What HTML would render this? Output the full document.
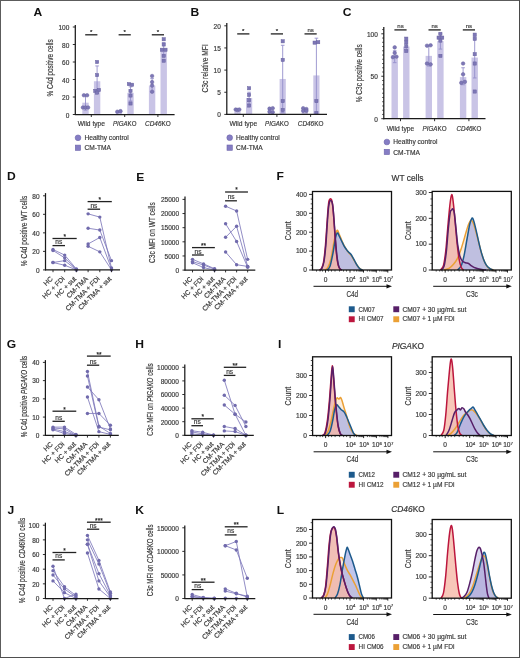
<!DOCTYPE html>
<html><head><meta charset="utf-8"><title>Figure</title>
<style>
html,body{margin:0;padding:0;background:#fff;}
body{width:520px;height:658px;overflow:hidden;}
svg{display:block;font-family:"Liberation Sans", sans-serif;will-change:transform;}
</style></head><body>
<svg width="520" height="658" viewBox="0 0 520 658">
<rect x="0" y="0" width="520" height="658" fill="#fff"/>
<text x="0" y="0" font-size="10.6" font-weight="bold" fill="#111" transform="translate(33.6 16.3) scale(1.14 1)">A</text>
<rect x="82.3" y="102.69" width="6.4" height="11.81" fill="#c9c4e6"/>
<rect x="93.9" y="81.25" width="6.4" height="33.25" fill="#c9c4e6"/>
<rect x="115.7" y="111.7" width="6.4" height="2.8" fill="#c9c4e6"/>
<rect x="127.3" y="92.8" width="6.4" height="21.7" fill="#c9c4e6"/>
<rect x="148.9" y="85.62" width="6.4" height="28.88" fill="#c9c4e6"/>
<rect x="160.5" y="49.75" width="6.4" height="64.75" fill="#c9c4e6"/>
<line x1="85.5" y1="95.25" x2="85.5" y2="110.12" stroke="#9590cc" stroke-width="0.9"/>
<line x1="83.7" y1="95.25" x2="87.3" y2="95.25" stroke="#9590cc" stroke-width="0.9"/>
<line x1="83.7" y1="110.12" x2="87.3" y2="110.12" stroke="#9590cc" stroke-width="0.9"/>
<circle cx="83.9" cy="95.25" r="1.8" fill="#7d77b6" stroke="#68629f" stroke-width="0.5"/>
<circle cx="87.1" cy="95.25" r="1.8" fill="#7d77b6" stroke="#68629f" stroke-width="0.5"/>
<circle cx="82.9" cy="107.5" r="1.8" fill="#7d77b6" stroke="#68629f" stroke-width="0.5"/>
<circle cx="85.5" cy="107.5" r="1.8" fill="#7d77b6" stroke="#68629f" stroke-width="0.5"/>
<circle cx="88.1" cy="107.5" r="1.8" fill="#7d77b6" stroke="#68629f" stroke-width="0.5"/>
<line x1="97.1" y1="65.94" x2="97.1" y2="93.5" stroke="#9590cc" stroke-width="0.9"/>
<line x1="95.3" y1="65.94" x2="98.9" y2="65.94" stroke="#9590cc" stroke-width="0.9"/>
<line x1="95.3" y1="93.5" x2="98.9" y2="93.5" stroke="#9590cc" stroke-width="0.9"/>
<rect x="95.5" y="60.4" width="3.2" height="3.2" fill="#7d77b6" stroke="#68629f" stroke-width="0.5"/>
<rect x="95.5" y="73.53" width="3.2" height="3.2" fill="#7d77b6" stroke="#68629f" stroke-width="0.5"/>
<rect x="93.7" y="89.28" width="3.2" height="3.2" fill="#7d77b6" stroke="#68629f" stroke-width="0.5"/>
<rect x="97.3" y="88.4" width="3.2" height="3.2" fill="#7d77b6" stroke="#68629f" stroke-width="0.5"/>
<rect x="95.5" y="91.03" width="3.2" height="3.2" fill="#7d77b6" stroke="#68629f" stroke-width="0.5"/>
<line x1="118.9" y1="111" x2="118.9" y2="112.31" stroke="#9590cc" stroke-width="0.9"/>
<line x1="117.1" y1="111" x2="120.7" y2="111" stroke="#9590cc" stroke-width="0.9"/>
<line x1="117.1" y1="112.31" x2="120.7" y2="112.31" stroke="#9590cc" stroke-width="0.9"/>
<circle cx="117.3" cy="111.7" r="1.8" fill="#7d77b6" stroke="#68629f" stroke-width="0.5"/>
<circle cx="120.5" cy="111.17" r="1.8" fill="#7d77b6" stroke="#68629f" stroke-width="0.5"/>
<line x1="130.5" y1="86.85" x2="130.5" y2="100.94" stroke="#9590cc" stroke-width="0.9"/>
<line x1="128.7" y1="86.85" x2="132.3" y2="86.85" stroke="#9590cc" stroke-width="0.9"/>
<line x1="128.7" y1="100.94" x2="132.3" y2="100.94" stroke="#9590cc" stroke-width="0.9"/>
<rect x="127.3" y="82.54" width="3.2" height="3.2" fill="#7d77b6" stroke="#68629f" stroke-width="0.5"/>
<rect x="130.5" y="83.15" width="3.2" height="3.2" fill="#7d77b6" stroke="#68629f" stroke-width="0.5"/>
<rect x="128.9" y="89.28" width="3.2" height="3.2" fill="#7d77b6" stroke="#68629f" stroke-width="0.5"/>
<rect x="128.9" y="93.91" width="3.2" height="3.2" fill="#7d77b6" stroke="#68629f" stroke-width="0.5"/>
<rect x="128.9" y="101.88" width="3.2" height="3.2" fill="#7d77b6" stroke="#68629f" stroke-width="0.5"/>
<line x1="152.1" y1="78.62" x2="152.1" y2="91.75" stroke="#9590cc" stroke-width="0.9"/>
<line x1="150.3" y1="78.62" x2="153.9" y2="78.62" stroke="#9590cc" stroke-width="0.9"/>
<line x1="150.3" y1="91.75" x2="153.9" y2="91.75" stroke="#9590cc" stroke-width="0.9"/>
<circle cx="152.1" cy="76" r="1.8" fill="#7d77b6" stroke="#68629f" stroke-width="0.5"/>
<circle cx="152.1" cy="82.12" r="1.8" fill="#7d77b6" stroke="#68629f" stroke-width="0.5"/>
<circle cx="152.1" cy="85.62" r="1.8" fill="#7d77b6" stroke="#68629f" stroke-width="0.5"/>
<circle cx="152.1" cy="91.75" r="1.8" fill="#7d77b6" stroke="#68629f" stroke-width="0.5"/>
<line x1="163.7" y1="42.75" x2="163.7" y2="55.88" stroke="#9590cc" stroke-width="0.9"/>
<line x1="161.9" y1="42.75" x2="165.5" y2="42.75" stroke="#9590cc" stroke-width="0.9"/>
<line x1="161.9" y1="55.88" x2="165.5" y2="55.88" stroke="#9590cc" stroke-width="0.9"/>
<rect x="162.1" y="37.65" width="3.2" height="3.2" fill="#7d77b6" stroke="#68629f" stroke-width="0.5"/>
<rect x="162.1" y="42.9" width="3.2" height="3.2" fill="#7d77b6" stroke="#68629f" stroke-width="0.5"/>
<rect x="160.3" y="48.15" width="3.2" height="3.2" fill="#7d77b6" stroke="#68629f" stroke-width="0.5"/>
<rect x="163.9" y="48.15" width="3.2" height="3.2" fill="#7d77b6" stroke="#68629f" stroke-width="0.5"/>
<rect x="162.1" y="54.27" width="3.2" height="3.2" fill="#7d77b6" stroke="#68629f" stroke-width="0.5"/>
<rect x="162.1" y="59.09" width="3.2" height="3.2" fill="#7d77b6" stroke="#68629f" stroke-width="0.5"/>
<line x1="75.3" y1="25" x2="75.3" y2="115" stroke="#1a1a1a" stroke-width="1.25"/>
<line x1="74.8" y1="114.5" x2="174.6" y2="114.5" stroke="#1a1a1a" stroke-width="1.25"/>
<line x1="72.8" y1="114.5" x2="75.3" y2="114.5" stroke="#1a1a1a" stroke-width="0.9"/>
<text x="69.3" y="117.5" font-size="6.5" text-anchor="end" fill="#3a3a3a" stroke="#3a3a3a" stroke-width="0.18">0</text>
<line x1="72.8" y1="97" x2="75.3" y2="97" stroke="#1a1a1a" stroke-width="0.9"/>
<text x="69.3" y="100" font-size="6.5" text-anchor="end" fill="#3a3a3a" stroke="#3a3a3a" stroke-width="0.18">20</text>
<line x1="72.8" y1="79.5" x2="75.3" y2="79.5" stroke="#1a1a1a" stroke-width="0.9"/>
<text x="69.3" y="82.5" font-size="6.5" text-anchor="end" fill="#3a3a3a" stroke="#3a3a3a" stroke-width="0.18">40</text>
<line x1="72.8" y1="62" x2="75.3" y2="62" stroke="#1a1a1a" stroke-width="0.9"/>
<text x="69.3" y="65" font-size="6.5" text-anchor="end" fill="#3a3a3a" stroke="#3a3a3a" stroke-width="0.18">60</text>
<line x1="72.8" y1="44.5" x2="75.3" y2="44.5" stroke="#1a1a1a" stroke-width="0.9"/>
<text x="69.3" y="47.5" font-size="6.5" text-anchor="end" fill="#3a3a3a" stroke="#3a3a3a" stroke-width="0.18">80</text>
<line x1="72.8" y1="27" x2="75.3" y2="27" stroke="#1a1a1a" stroke-width="0.9"/>
<text x="69.3" y="30" font-size="6.5" text-anchor="end" fill="#3a3a3a" stroke="#3a3a3a" stroke-width="0.18">100</text>
<line x1="91.3" y1="114.5" x2="91.3" y2="117" stroke="#1a1a1a" stroke-width="0.9"/>
<line x1="124.7" y1="114.5" x2="124.7" y2="117" stroke="#1a1a1a" stroke-width="0.9"/>
<line x1="157.9" y1="114.5" x2="157.9" y2="117" stroke="#1a1a1a" stroke-width="0.9"/>
<text x="91.3" y="126.2" font-size="6.7" text-anchor="middle" fill="#3a3a3a" textLength="27.3" lengthAdjust="spacingAndGlyphs" stroke="#3a3a3a" stroke-width="0.18">Wild type</text>
<text x="124.7" y="126.2" font-size="6.7" text-anchor="middle" fill="#3a3a3a" textLength="23.5" lengthAdjust="spacingAndGlyphs" stroke="#3a3a3a" stroke-width="0.18"><tspan font-style="italic">PIGA</tspan>KO</text>
<text x="157.9" y="126.2" font-size="6.7" text-anchor="middle" fill="#3a3a3a" textLength="25.7" lengthAdjust="spacingAndGlyphs" stroke="#3a3a3a" stroke-width="0.18"><tspan font-style="italic">CD46</tspan>KO</text>
<line x1="85.2" y1="34.8" x2="97.4" y2="34.8" stroke="#222" stroke-width="1.3"/>
<text x="91.3" y="34.2" font-size="6.2" text-anchor="middle" fill="#222" stroke="#222" stroke-width="0.18">*</text>
<line x1="118.6" y1="34.8" x2="130.8" y2="34.8" stroke="#222" stroke-width="1.3"/>
<text x="124.7" y="34.2" font-size="6.2" text-anchor="middle" fill="#222" stroke="#222" stroke-width="0.18">*</text>
<line x1="151.8" y1="34.8" x2="164" y2="34.8" stroke="#222" stroke-width="1.3"/>
<text x="157.9" y="34.2" font-size="6.2" text-anchor="middle" fill="#222" stroke="#222" stroke-width="0.18">*</text>
<text x="52.8" y="67.9" font-size="8.6" text-anchor="middle" fill="#3a3a3a" transform="rotate(-90 52.8 67.9)" textLength="57.2" lengthAdjust="spacingAndGlyphs" stroke="#3a3a3a" stroke-width="0.18">% C4d positive cells</text>
<circle cx="78" cy="137.8" r="2.85" fill="#857dc4" stroke="#6e66ab" stroke-width="0.6"/>
<text x="84.4" y="139.6" font-size="6.9" text-anchor="start" fill="#3a3a3a" textLength="44.4" lengthAdjust="spacingAndGlyphs" stroke="#3a3a3a" stroke-width="0.18">Healthy control</text>
<rect x="75.3" y="145.1" width="5.3" height="5.3" fill="#857dc4" stroke="#6e66ab" stroke-width="0.6"/>
<text x="84.4" y="150.4" font-size="6.9" text-anchor="start" fill="#3a3a3a" textLength="26.5" lengthAdjust="spacingAndGlyphs" stroke="#3a3a3a" stroke-width="0.18">CM-TMA</text>
<text x="0" y="0" font-size="10.6" font-weight="bold" fill="#111" transform="translate(190.4 16.4) scale(1.14 1)">B</text>
<rect x="234.4" y="109.97" width="6.2" height="4.43" fill="#c9c4e6"/>
<rect x="246" y="98.01" width="6.2" height="16.39" fill="#c9c4e6"/>
<rect x="268" y="110.41" width="6.2" height="3.99" fill="#c9c4e6"/>
<rect x="279.6" y="78.96" width="6.2" height="35.44" fill="#c9c4e6"/>
<rect x="301.7" y="109.97" width="6.2" height="4.43" fill="#c9c4e6"/>
<rect x="313.3" y="75.42" width="6.2" height="38.98" fill="#c9c4e6"/>
<line x1="237.5" y1="109.31" x2="237.5" y2="110.63" stroke="#9590cc" stroke-width="0.9"/>
<line x1="235.7" y1="109.31" x2="239.3" y2="109.31" stroke="#9590cc" stroke-width="0.9"/>
<line x1="235.7" y1="110.63" x2="239.3" y2="110.63" stroke="#9590cc" stroke-width="0.9"/>
<circle cx="235.7" cy="109.53" r="1.8" fill="#7d77b6" stroke="#68629f" stroke-width="0.5"/>
<circle cx="237.5" cy="109.97" r="1.8" fill="#7d77b6" stroke="#68629f" stroke-width="0.5"/>
<circle cx="239.3" cy="109.53" r="1.8" fill="#7d77b6" stroke="#68629f" stroke-width="0.5"/>
<line x1="249.1" y1="92.25" x2="249.1" y2="104.21" stroke="#9590cc" stroke-width="0.9"/>
<line x1="247.3" y1="92.25" x2="250.9" y2="92.25" stroke="#9590cc" stroke-width="0.9"/>
<line x1="247.3" y1="104.21" x2="250.9" y2="104.21" stroke="#9590cc" stroke-width="0.9"/>
<rect x="247.5" y="86.66" width="3.2" height="3.2" fill="#7d77b6" stroke="#68629f" stroke-width="0.5"/>
<rect x="247.5" y="93.31" width="3.2" height="3.2" fill="#7d77b6" stroke="#68629f" stroke-width="0.5"/>
<rect x="247.5" y="98.62" width="3.2" height="3.2" fill="#7d77b6" stroke="#68629f" stroke-width="0.5"/>
<rect x="247.5" y="103.94" width="3.2" height="3.2" fill="#7d77b6" stroke="#68629f" stroke-width="0.5"/>
<line x1="271.1" y1="108.64" x2="271.1" y2="112.19" stroke="#9590cc" stroke-width="0.9"/>
<line x1="269.3" y1="108.64" x2="272.9" y2="108.64" stroke="#9590cc" stroke-width="0.9"/>
<line x1="269.3" y1="112.19" x2="272.9" y2="112.19" stroke="#9590cc" stroke-width="0.9"/>
<circle cx="269.5" cy="108.64" r="1.8" fill="#7d77b6" stroke="#68629f" stroke-width="0.5"/>
<circle cx="272.7" cy="108.2" r="1.8" fill="#7d77b6" stroke="#68629f" stroke-width="0.5"/>
<circle cx="269.5" cy="111.74" r="1.8" fill="#7d77b6" stroke="#68629f" stroke-width="0.5"/>
<circle cx="272.7" cy="112.19" r="1.8" fill="#7d77b6" stroke="#68629f" stroke-width="0.5"/>
<line x1="282.7" y1="45.29" x2="282.7" y2="112.63" stroke="#9590cc" stroke-width="0.9"/>
<line x1="280.9" y1="45.29" x2="284.5" y2="45.29" stroke="#9590cc" stroke-width="0.9"/>
<line x1="280.9" y1="112.63" x2="284.5" y2="112.63" stroke="#9590cc" stroke-width="0.9"/>
<rect x="281.1" y="39.7" width="3.2" height="3.2" fill="#7d77b6" stroke="#68629f" stroke-width="0.5"/>
<rect x="281.1" y="58.31" width="3.2" height="3.2" fill="#7d77b6" stroke="#68629f" stroke-width="0.5"/>
<rect x="281.1" y="99.51" width="3.2" height="3.2" fill="#7d77b6" stroke="#68629f" stroke-width="0.5"/>
<rect x="281.1" y="108.37" width="3.2" height="3.2" fill="#7d77b6" stroke="#68629f" stroke-width="0.5"/>
<line x1="304.8" y1="108.64" x2="304.8" y2="111.3" stroke="#9590cc" stroke-width="0.9"/>
<line x1="303" y1="108.64" x2="306.6" y2="108.64" stroke="#9590cc" stroke-width="0.9"/>
<line x1="303" y1="111.3" x2="306.6" y2="111.3" stroke="#9590cc" stroke-width="0.9"/>
<circle cx="303.2" cy="108.2" r="1.8" fill="#7d77b6" stroke="#68629f" stroke-width="0.5"/>
<circle cx="306.4" cy="109.08" r="1.8" fill="#7d77b6" stroke="#68629f" stroke-width="0.5"/>
<circle cx="303.2" cy="110.86" r="1.8" fill="#7d77b6" stroke="#68629f" stroke-width="0.5"/>
<circle cx="306.4" cy="110.86" r="1.8" fill="#7d77b6" stroke="#68629f" stroke-width="0.5"/>
<line x1="316.4" y1="38.2" x2="316.4" y2="113.07" stroke="#9590cc" stroke-width="0.9"/>
<line x1="314.6" y1="38.2" x2="318.2" y2="38.2" stroke="#9590cc" stroke-width="0.9"/>
<line x1="314.6" y1="113.07" x2="318.2" y2="113.07" stroke="#9590cc" stroke-width="0.9"/>
<rect x="313" y="41.03" width="3.2" height="3.2" fill="#7d77b6" stroke="#68629f" stroke-width="0.5"/>
<rect x="316.6" y="40.59" width="3.2" height="3.2" fill="#7d77b6" stroke="#68629f" stroke-width="0.5"/>
<rect x="314.8" y="99.51" width="3.2" height="3.2" fill="#7d77b6" stroke="#68629f" stroke-width="0.5"/>
<rect x="314.8" y="111.47" width="3.2" height="3.2" fill="#7d77b6" stroke="#68629f" stroke-width="0.5"/>
<line x1="226.8" y1="23.1" x2="226.8" y2="114.9" stroke="#1a1a1a" stroke-width="1.25"/>
<line x1="226.3" y1="114.4" x2="327" y2="114.4" stroke="#1a1a1a" stroke-width="1.25"/>
<line x1="224.3" y1="114.4" x2="226.8" y2="114.4" stroke="#1a1a1a" stroke-width="0.9"/>
<text x="220.8" y="117.4" font-size="6.5" text-anchor="end" fill="#3a3a3a" stroke="#3a3a3a" stroke-width="0.18">0</text>
<line x1="224.3" y1="92.25" x2="226.8" y2="92.25" stroke="#1a1a1a" stroke-width="0.9"/>
<text x="220.8" y="95.25" font-size="6.5" text-anchor="end" fill="#3a3a3a" stroke="#3a3a3a" stroke-width="0.18">5</text>
<line x1="224.3" y1="70.1" x2="226.8" y2="70.1" stroke="#1a1a1a" stroke-width="0.9"/>
<text x="220.8" y="73.1" font-size="6.5" text-anchor="end" fill="#3a3a3a" stroke="#3a3a3a" stroke-width="0.18">10</text>
<line x1="224.3" y1="47.95" x2="226.8" y2="47.95" stroke="#1a1a1a" stroke-width="0.9"/>
<text x="220.8" y="50.95" font-size="6.5" text-anchor="end" fill="#3a3a3a" stroke="#3a3a3a" stroke-width="0.18">15</text>
<line x1="224.3" y1="25.8" x2="226.8" y2="25.8" stroke="#1a1a1a" stroke-width="0.9"/>
<text x="220.8" y="28.8" font-size="6.5" text-anchor="end" fill="#3a3a3a" stroke="#3a3a3a" stroke-width="0.18">20</text>
<line x1="243.3" y1="114.4" x2="243.3" y2="116.9" stroke="#1a1a1a" stroke-width="0.9"/>
<line x1="276.9" y1="114.4" x2="276.9" y2="116.9" stroke="#1a1a1a" stroke-width="0.9"/>
<line x1="310.6" y1="114.4" x2="310.6" y2="116.9" stroke="#1a1a1a" stroke-width="0.9"/>
<text x="243.3" y="126.2" font-size="6.7" text-anchor="middle" fill="#3a3a3a" textLength="27.7" lengthAdjust="spacingAndGlyphs" stroke="#3a3a3a" stroke-width="0.18">Wild type</text>
<text x="276.9" y="126.2" font-size="6.7" text-anchor="middle" fill="#3a3a3a" textLength="23.7" lengthAdjust="spacingAndGlyphs" stroke="#3a3a3a" stroke-width="0.18"><tspan font-style="italic">PIGA</tspan>KO</text>
<text x="310.6" y="126.2" font-size="6.7" text-anchor="middle" fill="#3a3a3a" textLength="25.6" lengthAdjust="spacingAndGlyphs" stroke="#3a3a3a" stroke-width="0.18"><tspan font-style="italic">CD46</tspan>KO</text>
<line x1="237.2" y1="33.9" x2="249.4" y2="33.9" stroke="#222" stroke-width="1.3"/>
<text x="243.3" y="33.3" font-size="6.2" text-anchor="middle" fill="#222" stroke="#222" stroke-width="0.18">*</text>
<line x1="270.8" y1="33.9" x2="283" y2="33.9" stroke="#222" stroke-width="1.3"/>
<text x="276.9" y="33.3" font-size="6.2" text-anchor="middle" fill="#222" stroke="#222" stroke-width="0.18">*</text>
<line x1="304.5" y1="33.9" x2="316.7" y2="33.9" stroke="#222" stroke-width="1.3"/>
<text x="310.6" y="31.9" font-size="6" text-anchor="middle" fill="#3a3a3a" stroke="#3a3a3a" stroke-width="0.18">ns</text>
<text x="208.3" y="68.4" font-size="8.6" text-anchor="middle" fill="#3a3a3a" transform="rotate(-90 208.3 68.4)" textLength="48.3" lengthAdjust="spacingAndGlyphs" stroke="#3a3a3a" stroke-width="0.18">C3c relative MFI</text>
<circle cx="229.7" cy="137.7" r="2.85" fill="#857dc4" stroke="#6e66ab" stroke-width="0.6"/>
<text x="236.1" y="139.5" font-size="6.9" text-anchor="start" fill="#3a3a3a" textLength="43.7" lengthAdjust="spacingAndGlyphs" stroke="#3a3a3a" stroke-width="0.18">Healthy control</text>
<rect x="227" y="145" width="5.3" height="5.3" fill="#857dc4" stroke="#6e66ab" stroke-width="0.6"/>
<text x="236.1" y="150.3" font-size="6.9" text-anchor="start" fill="#3a3a3a" textLength="26.6" lengthAdjust="spacingAndGlyphs" stroke="#3a3a3a" stroke-width="0.18">CM-TMA</text>
<text x="0" y="0" font-size="10.6" font-weight="bold" fill="#111" transform="translate(342.8 16.3) scale(1.14 1)">C</text>
<rect x="391.5" y="58.42" width="6.4" height="60.28" fill="#c9c4e6"/>
<rect x="403.1" y="46.53" width="6.4" height="72.17" fill="#c9c4e6"/>
<rect x="425.6" y="55.87" width="6.4" height="62.83" fill="#c9c4e6"/>
<rect x="437.2" y="41.1" width="6.4" height="77.6" fill="#c9c4e6"/>
<rect x="459.9" y="77.1" width="6.4" height="41.6" fill="#c9c4e6"/>
<rect x="471.5" y="57.57" width="6.4" height="61.13" fill="#c9c4e6"/>
<line x1="394.7" y1="50.78" x2="394.7" y2="62.67" stroke="#9590cc" stroke-width="0.9"/>
<line x1="392.9" y1="50.78" x2="396.5" y2="50.78" stroke="#9590cc" stroke-width="0.9"/>
<line x1="392.9" y1="62.67" x2="396.5" y2="62.67" stroke="#9590cc" stroke-width="0.9"/>
<circle cx="394.7" cy="47.38" r="1.8" fill="#7d77b6" stroke="#68629f" stroke-width="0.5"/>
<circle cx="394.7" cy="52.9" r="1.8" fill="#7d77b6" stroke="#68629f" stroke-width="0.5"/>
<circle cx="392.9" cy="57.15" r="1.8" fill="#7d77b6" stroke="#68629f" stroke-width="0.5"/>
<circle cx="396.5" cy="56.72" r="1.8" fill="#7d77b6" stroke="#68629f" stroke-width="0.5"/>
<line x1="406.3" y1="40.59" x2="406.3" y2="50.78" stroke="#9590cc" stroke-width="0.9"/>
<line x1="404.5" y1="40.59" x2="408.1" y2="40.59" stroke="#9590cc" stroke-width="0.9"/>
<line x1="404.5" y1="50.78" x2="408.1" y2="50.78" stroke="#9590cc" stroke-width="0.9"/>
<rect x="404.7" y="37.04" width="3.2" height="3.2" fill="#7d77b6" stroke="#68629f" stroke-width="0.5"/>
<rect x="404.7" y="40.86" width="3.2" height="3.2" fill="#7d77b6" stroke="#68629f" stroke-width="0.5"/>
<rect x="404.7" y="44.77" width="3.2" height="3.2" fill="#7d77b6" stroke="#68629f" stroke-width="0.5"/>
<rect x="404.7" y="49.43" width="3.2" height="3.2" fill="#7d77b6" stroke="#68629f" stroke-width="0.5"/>
<line x1="428.8" y1="45.69" x2="428.8" y2="66.06" stroke="#9590cc" stroke-width="0.9"/>
<line x1="427" y1="45.69" x2="430.6" y2="45.69" stroke="#9590cc" stroke-width="0.9"/>
<line x1="427" y1="66.06" x2="430.6" y2="66.06" stroke="#9590cc" stroke-width="0.9"/>
<circle cx="427" cy="45.69" r="1.8" fill="#7d77b6" stroke="#68629f" stroke-width="0.5"/>
<circle cx="430.6" cy="45.26" r="1.8" fill="#7d77b6" stroke="#68629f" stroke-width="0.5"/>
<circle cx="427" cy="63.52" r="1.8" fill="#7d77b6" stroke="#68629f" stroke-width="0.5"/>
<circle cx="430.6" cy="64.36" r="1.8" fill="#7d77b6" stroke="#68629f" stroke-width="0.5"/>
<line x1="440.4" y1="33.8" x2="440.4" y2="49.08" stroke="#9590cc" stroke-width="0.9"/>
<line x1="438.6" y1="33.8" x2="442.2" y2="33.8" stroke="#9590cc" stroke-width="0.9"/>
<line x1="438.6" y1="49.08" x2="442.2" y2="49.08" stroke="#9590cc" stroke-width="0.9"/>
<rect x="438.8" y="32.2" width="3.2" height="3.2" fill="#7d77b6" stroke="#68629f" stroke-width="0.5"/>
<rect x="437" y="36.02" width="3.2" height="3.2" fill="#7d77b6" stroke="#68629f" stroke-width="0.5"/>
<rect x="440.6" y="36.02" width="3.2" height="3.2" fill="#7d77b6" stroke="#68629f" stroke-width="0.5"/>
<rect x="438.8" y="38.99" width="3.2" height="3.2" fill="#7d77b6" stroke="#68629f" stroke-width="0.5"/>
<rect x="438.8" y="54.27" width="3.2" height="3.2" fill="#7d77b6" stroke="#68629f" stroke-width="0.5"/>
<line x1="463.1" y1="67.76" x2="463.1" y2="84.74" stroke="#9590cc" stroke-width="0.9"/>
<line x1="461.3" y1="67.76" x2="464.9" y2="67.76" stroke="#9590cc" stroke-width="0.9"/>
<line x1="461.3" y1="84.74" x2="464.9" y2="84.74" stroke="#9590cc" stroke-width="0.9"/>
<circle cx="463.1" cy="63.52" r="1.8" fill="#7d77b6" stroke="#68629f" stroke-width="0.5"/>
<circle cx="463.1" cy="74.3" r="1.8" fill="#7d77b6" stroke="#68629f" stroke-width="0.5"/>
<circle cx="461.3" cy="82.87" r="1.8" fill="#7d77b6" stroke="#68629f" stroke-width="0.5"/>
<circle cx="464.9" cy="81.85" r="1.8" fill="#7d77b6" stroke="#68629f" stroke-width="0.5"/>
<line x1="474.7" y1="36.35" x2="474.7" y2="77.95" stroke="#9590cc" stroke-width="0.9"/>
<line x1="472.9" y1="36.35" x2="476.5" y2="36.35" stroke="#9590cc" stroke-width="0.9"/>
<line x1="472.9" y1="77.95" x2="476.5" y2="77.95" stroke="#9590cc" stroke-width="0.9"/>
<rect x="473.1" y="33.05" width="3.2" height="3.2" fill="#7d77b6" stroke="#68629f" stroke-width="0.5"/>
<rect x="473.1" y="37.29" width="3.2" height="3.2" fill="#7d77b6" stroke="#68629f" stroke-width="0.5"/>
<rect x="473.1" y="52.58" width="3.2" height="3.2" fill="#7d77b6" stroke="#68629f" stroke-width="0.5"/>
<rect x="473.1" y="61.91" width="3.2" height="3.2" fill="#7d77b6" stroke="#68629f" stroke-width="0.5"/>
<rect x="473.1" y="89.93" width="3.2" height="3.2" fill="#7d77b6" stroke="#68629f" stroke-width="0.5"/>
<line x1="383.8" y1="26.9" x2="383.8" y2="119.2" stroke="#1a1a1a" stroke-width="1.25"/>
<line x1="383.3" y1="118.7" x2="485.5" y2="118.7" stroke="#1a1a1a" stroke-width="1.25"/>
<line x1="381.3" y1="118.7" x2="383.8" y2="118.7" stroke="#1a1a1a" stroke-width="0.9"/>
<text x="377.8" y="121.7" font-size="6.5" text-anchor="end" fill="#3a3a3a" stroke="#3a3a3a" stroke-width="0.18">0</text>
<line x1="381.3" y1="76.25" x2="383.8" y2="76.25" stroke="#1a1a1a" stroke-width="0.9"/>
<text x="377.8" y="79.25" font-size="6.5" text-anchor="end" fill="#3a3a3a" stroke="#3a3a3a" stroke-width="0.18">50</text>
<line x1="381.3" y1="33.8" x2="383.8" y2="33.8" stroke="#1a1a1a" stroke-width="0.9"/>
<text x="377.8" y="36.8" font-size="6.5" text-anchor="end" fill="#3a3a3a" stroke="#3a3a3a" stroke-width="0.18">100</text>
<line x1="382.2" y1="114.45" x2="383.8" y2="114.45" stroke="#1a1a1a" stroke-width="0.8"/>
<line x1="382.2" y1="110.21" x2="383.8" y2="110.21" stroke="#1a1a1a" stroke-width="0.8"/>
<line x1="382.2" y1="105.97" x2="383.8" y2="105.97" stroke="#1a1a1a" stroke-width="0.8"/>
<line x1="382.2" y1="101.72" x2="383.8" y2="101.72" stroke="#1a1a1a" stroke-width="0.8"/>
<line x1="382.2" y1="97.47" x2="383.8" y2="97.47" stroke="#1a1a1a" stroke-width="0.8"/>
<line x1="382.2" y1="93.23" x2="383.8" y2="93.23" stroke="#1a1a1a" stroke-width="0.8"/>
<line x1="382.2" y1="88.98" x2="383.8" y2="88.98" stroke="#1a1a1a" stroke-width="0.8"/>
<line x1="382.2" y1="84.74" x2="383.8" y2="84.74" stroke="#1a1a1a" stroke-width="0.8"/>
<line x1="382.2" y1="80.5" x2="383.8" y2="80.5" stroke="#1a1a1a" stroke-width="0.8"/>
<line x1="382.2" y1="72" x2="383.8" y2="72" stroke="#1a1a1a" stroke-width="0.8"/>
<line x1="382.2" y1="67.76" x2="383.8" y2="67.76" stroke="#1a1a1a" stroke-width="0.8"/>
<line x1="382.2" y1="63.52" x2="383.8" y2="63.52" stroke="#1a1a1a" stroke-width="0.8"/>
<line x1="382.2" y1="59.27" x2="383.8" y2="59.27" stroke="#1a1a1a" stroke-width="0.8"/>
<line x1="382.2" y1="55.02" x2="383.8" y2="55.02" stroke="#1a1a1a" stroke-width="0.8"/>
<line x1="382.2" y1="50.78" x2="383.8" y2="50.78" stroke="#1a1a1a" stroke-width="0.8"/>
<line x1="382.2" y1="46.53" x2="383.8" y2="46.53" stroke="#1a1a1a" stroke-width="0.8"/>
<line x1="382.2" y1="42.29" x2="383.8" y2="42.29" stroke="#1a1a1a" stroke-width="0.8"/>
<line x1="382.2" y1="38.04" x2="383.8" y2="38.04" stroke="#1a1a1a" stroke-width="0.8"/>
<line x1="382.2" y1="29.55" x2="383.8" y2="29.55" stroke="#1a1a1a" stroke-width="0.8"/>
<line x1="400.5" y1="118.7" x2="400.5" y2="121.2" stroke="#1a1a1a" stroke-width="0.9"/>
<line x1="434.6" y1="118.7" x2="434.6" y2="121.2" stroke="#1a1a1a" stroke-width="0.9"/>
<line x1="468.9" y1="118.7" x2="468.9" y2="121.2" stroke="#1a1a1a" stroke-width="0.9"/>
<text x="400.5" y="130.5" font-size="6.7" text-anchor="middle" fill="#3a3a3a" textLength="27.5" lengthAdjust="spacingAndGlyphs" stroke="#3a3a3a" stroke-width="0.18">Wild type</text>
<text x="434.6" y="130.5" font-size="6.7" text-anchor="middle" fill="#3a3a3a" textLength="24" lengthAdjust="spacingAndGlyphs" stroke="#3a3a3a" stroke-width="0.18"><tspan font-style="italic">PIGA</tspan>KO</text>
<text x="468.9" y="130.5" font-size="6.7" text-anchor="middle" fill="#3a3a3a" textLength="25" lengthAdjust="spacingAndGlyphs" stroke="#3a3a3a" stroke-width="0.18"><tspan font-style="italic">CD46</tspan>KO</text>
<line x1="394.4" y1="29.9" x2="406.6" y2="29.9" stroke="#222" stroke-width="1.3"/>
<text x="400.5" y="27.9" font-size="6" text-anchor="middle" fill="#3a3a3a" stroke="#3a3a3a" stroke-width="0.18">ns</text>
<line x1="428.5" y1="29.9" x2="440.7" y2="29.9" stroke="#222" stroke-width="1.3"/>
<text x="434.6" y="27.9" font-size="6" text-anchor="middle" fill="#3a3a3a" stroke="#3a3a3a" stroke-width="0.18">ns</text>
<line x1="462.8" y1="29.9" x2="475" y2="29.9" stroke="#222" stroke-width="1.3"/>
<text x="468.9" y="27.9" font-size="6" text-anchor="middle" fill="#3a3a3a" stroke="#3a3a3a" stroke-width="0.18">ns</text>
<text x="362" y="73.3" font-size="8.6" text-anchor="middle" fill="#3a3a3a" transform="rotate(-90 362 73.3)" textLength="58" lengthAdjust="spacingAndGlyphs" stroke="#3a3a3a" stroke-width="0.18">% C3c positive cells</text>
<circle cx="386.9" cy="142" r="2.85" fill="#857dc4" stroke="#6e66ab" stroke-width="0.6"/>
<text x="393.3" y="143.8" font-size="6.9" text-anchor="start" fill="#3a3a3a" textLength="44.1" lengthAdjust="spacingAndGlyphs" stroke="#3a3a3a" stroke-width="0.18">Healthy control</text>
<rect x="384.2" y="149.3" width="5.3" height="5.3" fill="#857dc4" stroke="#6e66ab" stroke-width="0.6"/>
<text x="393.3" y="154.6" font-size="6.9" text-anchor="start" fill="#3a3a3a" textLength="26.6" lengthAdjust="spacingAndGlyphs" stroke="#3a3a3a" stroke-width="0.18">CM-TMA</text>
<text x="0" y="0" font-size="10.6" font-weight="bold" fill="#111" transform="translate(6.9 180.4) scale(1.14 1)">D</text>
<path d="M53 249.52 L64.7 255.08 L76.4 268.97" fill="none" stroke="#7e79bb" stroke-width="0.85"/>
<path d="M53 250.45 L64.7 257.86 L76.4 269.44" fill="none" stroke="#7e79bb" stroke-width="0.85"/>
<path d="M53 262.49 L64.7 260.64 L76.4 269.9" fill="none" stroke="#7e79bb" stroke-width="0.85"/>
<path d="M53 262.49 L64.7 265.27 L76.4 269.9" fill="none" stroke="#7e79bb" stroke-width="0.85"/>
<path d="M88.1 213.86 L99.8 217.1 L111.5 268.05" fill="none" stroke="#7e79bb" stroke-width="0.85"/>
<path d="M88.1 228.22 L99.8 230.07 L111.5 260.64" fill="none" stroke="#7e79bb" stroke-width="0.85"/>
<path d="M88.1 243.96 L99.8 237.48 L111.5 268.97" fill="none" stroke="#7e79bb" stroke-width="0.85"/>
<path d="M88.1 246.28 L99.8 251.84 L111.5 269.9" fill="none" stroke="#7e79bb" stroke-width="0.85"/>
<circle cx="53" cy="249.52" r="1.7" fill="#716bad"/>
<circle cx="64.7" cy="255.08" r="1.7" fill="#716bad"/>
<circle cx="76.4" cy="268.97" r="1.7" fill="#716bad"/>
<circle cx="53" cy="250.45" r="1.7" fill="#716bad"/>
<circle cx="64.7" cy="257.86" r="1.7" fill="#716bad"/>
<circle cx="76.4" cy="269.44" r="1.7" fill="#716bad"/>
<circle cx="53" cy="262.49" r="1.7" fill="#716bad"/>
<circle cx="64.7" cy="260.64" r="1.7" fill="#716bad"/>
<circle cx="76.4" cy="269.9" r="1.7" fill="#716bad"/>
<circle cx="53" cy="262.49" r="1.7" fill="#716bad"/>
<circle cx="64.7" cy="265.27" r="1.7" fill="#716bad"/>
<circle cx="76.4" cy="269.9" r="1.7" fill="#716bad"/>
<circle cx="88.1" cy="213.86" r="1.7" fill="#716bad"/>
<circle cx="99.8" cy="217.1" r="1.7" fill="#716bad"/>
<circle cx="111.5" cy="268.05" r="1.7" fill="#716bad"/>
<circle cx="88.1" cy="228.22" r="1.7" fill="#716bad"/>
<circle cx="99.8" cy="230.07" r="1.7" fill="#716bad"/>
<circle cx="111.5" cy="260.64" r="1.7" fill="#716bad"/>
<circle cx="88.1" cy="243.96" r="1.7" fill="#716bad"/>
<circle cx="99.8" cy="237.48" r="1.7" fill="#716bad"/>
<circle cx="111.5" cy="268.97" r="1.7" fill="#716bad"/>
<circle cx="88.1" cy="246.28" r="1.7" fill="#716bad"/>
<circle cx="99.8" cy="251.84" r="1.7" fill="#716bad"/>
<circle cx="111.5" cy="269.9" r="1.7" fill="#716bad"/>
<line x1="45.5" y1="193.1" x2="45.5" y2="270.4" stroke="#1a1a1a" stroke-width="1.25"/>
<line x1="45" y1="269.9" x2="120" y2="269.9" stroke="#1a1a1a" stroke-width="1.25"/>
<line x1="43" y1="269.9" x2="45.5" y2="269.9" stroke="#1a1a1a" stroke-width="0.9"/>
<text x="39.5" y="272.7" font-size="6.5" text-anchor="end" fill="#3a3a3a" stroke="#3a3a3a" stroke-width="0.18">0</text>
<line x1="43" y1="251.38" x2="45.5" y2="251.38" stroke="#1a1a1a" stroke-width="0.9"/>
<text x="39.5" y="254.18" font-size="6.5" text-anchor="end" fill="#3a3a3a" stroke="#3a3a3a" stroke-width="0.18">20</text>
<line x1="43" y1="232.85" x2="45.5" y2="232.85" stroke="#1a1a1a" stroke-width="0.9"/>
<text x="39.5" y="235.65" font-size="6.5" text-anchor="end" fill="#3a3a3a" stroke="#3a3a3a" stroke-width="0.18">40</text>
<line x1="43" y1="214.32" x2="45.5" y2="214.32" stroke="#1a1a1a" stroke-width="0.9"/>
<text x="39.5" y="217.12" font-size="6.5" text-anchor="end" fill="#3a3a3a" stroke="#3a3a3a" stroke-width="0.18">60</text>
<line x1="43" y1="195.8" x2="45.5" y2="195.8" stroke="#1a1a1a" stroke-width="0.9"/>
<text x="39.5" y="198.6" font-size="6.5" text-anchor="end" fill="#3a3a3a" stroke="#3a3a3a" stroke-width="0.18">80</text>
<line x1="53" y1="269.9" x2="53" y2="272.2" stroke="#1a1a1a" stroke-width="0.9"/>
<line x1="64.7" y1="269.9" x2="64.7" y2="272.2" stroke="#1a1a1a" stroke-width="0.9"/>
<line x1="76.4" y1="269.9" x2="76.4" y2="272.2" stroke="#1a1a1a" stroke-width="0.9"/>
<line x1="88.1" y1="269.9" x2="88.1" y2="272.2" stroke="#1a1a1a" stroke-width="0.9"/>
<line x1="99.8" y1="269.9" x2="99.8" y2="272.2" stroke="#1a1a1a" stroke-width="0.9"/>
<line x1="111.5" y1="269.9" x2="111.5" y2="272.2" stroke="#1a1a1a" stroke-width="0.9"/>
<line x1="52.5" y1="245.6" x2="65" y2="245.6" stroke="#222" stroke-width="1.3"/>
<text x="58.85" y="244.1" font-size="6.6" text-anchor="middle" fill="#3a3a3a" stroke="#3a3a3a" stroke-width="0.18">ns</text>
<line x1="52.5" y1="238.5" x2="76.7" y2="238.5" stroke="#222" stroke-width="1.3"/>
<text x="64.7" y="238.9" font-size="6.5" text-anchor="middle" fill="#222" stroke="#222" stroke-width="0.18">*</text>
<line x1="87.6" y1="209.2" x2="100.1" y2="209.2" stroke="#222" stroke-width="1.3"/>
<text x="93.95" y="207.7" font-size="6.6" text-anchor="middle" fill="#3a3a3a" stroke="#3a3a3a" stroke-width="0.18">ns</text>
<line x1="87.6" y1="201.6" x2="111.8" y2="201.6" stroke="#222" stroke-width="1.3"/>
<text x="99.8" y="202" font-size="6.5" text-anchor="middle" fill="#222" stroke="#222" stroke-width="0.18">*</text>
<text x="53.3" y="279.3" font-size="6.8" text-anchor="end" fill="#3a3a3a" transform="rotate(-45 53.3 279.3)" stroke="#3a3a3a" stroke-width="0.18">HC</text>
<text x="65" y="279.3" font-size="6.8" text-anchor="end" fill="#3a3a3a" transform="rotate(-45 65 279.3)" stroke="#3a3a3a" stroke-width="0.18">HC + FDi</text>
<text x="76.7" y="279.3" font-size="6.8" text-anchor="end" fill="#3a3a3a" transform="rotate(-45 76.7 279.3)" stroke="#3a3a3a" stroke-width="0.18">HC + sut</text>
<text x="88.4" y="279.3" font-size="6.8" text-anchor="end" fill="#3a3a3a" transform="rotate(-45 88.4 279.3)" stroke="#3a3a3a" stroke-width="0.18">CM-TMA</text>
<text x="100.1" y="279.3" font-size="6.8" text-anchor="end" fill="#3a3a3a" transform="rotate(-45 100.1 279.3)" stroke="#3a3a3a" stroke-width="0.18">CM-TMA + FDi</text>
<text x="111.8" y="279.3" font-size="6.8" text-anchor="end" fill="#3a3a3a" transform="rotate(-45 111.8 279.3)" stroke="#3a3a3a" stroke-width="0.18">CM-TMA + sut</text>
<text x="27" y="231" font-size="8.6" text-anchor="middle" fill="#3a3a3a" transform="rotate(-90 27 231)" textLength="70.4" lengthAdjust="spacingAndGlyphs" stroke="#3a3a3a" stroke-width="0.18">% C4d positive WT cells</text>
<text x="0" y="0" font-size="10.6" font-weight="bold" fill="#111" transform="translate(136.3 180.5) scale(1.14 1)">E</text>
<path d="M192.5 259.35 L203.53 263.88 L214.56 268.69" fill="none" stroke="#7e79bb" stroke-width="0.85"/>
<path d="M192.5 261.62 L203.53 265.01 L214.56 269.25" fill="none" stroke="#7e79bb" stroke-width="0.85"/>
<path d="M192.5 262.75 L203.53 267.55 L214.56 270.1" fill="none" stroke="#7e79bb" stroke-width="0.85"/>
<path d="M225.59 206.19 L236.62 210.99 L247.65 259.35" fill="none" stroke="#7e79bb" stroke-width="0.85"/>
<path d="M225.59 223.72 L236.62 241.54 L247.65 267.27" fill="none" stroke="#7e79bb" stroke-width="0.85"/>
<path d="M225.59 237.3 L236.62 226.27 L247.65 266.42" fill="none" stroke="#7e79bb" stroke-width="0.85"/>
<path d="M225.59 252 L236.62 264.73 L247.65 266.42" fill="none" stroke="#7e79bb" stroke-width="0.85"/>
<circle cx="192.5" cy="259.35" r="1.7" fill="#716bad"/>
<circle cx="203.53" cy="263.88" r="1.7" fill="#716bad"/>
<circle cx="214.56" cy="268.69" r="1.7" fill="#716bad"/>
<circle cx="192.5" cy="261.62" r="1.7" fill="#716bad"/>
<circle cx="203.53" cy="265.01" r="1.7" fill="#716bad"/>
<circle cx="214.56" cy="269.25" r="1.7" fill="#716bad"/>
<circle cx="192.5" cy="262.75" r="1.7" fill="#716bad"/>
<circle cx="203.53" cy="267.55" r="1.7" fill="#716bad"/>
<circle cx="214.56" cy="270.1" r="1.7" fill="#716bad"/>
<circle cx="225.59" cy="206.19" r="1.7" fill="#716bad"/>
<circle cx="236.62" cy="210.99" r="1.7" fill="#716bad"/>
<circle cx="247.65" cy="259.35" r="1.7" fill="#716bad"/>
<circle cx="225.59" cy="223.72" r="1.7" fill="#716bad"/>
<circle cx="236.62" cy="241.54" r="1.7" fill="#716bad"/>
<circle cx="247.65" cy="267.27" r="1.7" fill="#716bad"/>
<circle cx="225.59" cy="237.3" r="1.7" fill="#716bad"/>
<circle cx="236.62" cy="226.27" r="1.7" fill="#716bad"/>
<circle cx="247.65" cy="266.42" r="1.7" fill="#716bad"/>
<circle cx="225.59" cy="252" r="1.7" fill="#716bad"/>
<circle cx="236.62" cy="264.73" r="1.7" fill="#716bad"/>
<circle cx="247.65" cy="266.42" r="1.7" fill="#716bad"/>
<line x1="185" y1="196.6" x2="185" y2="270.6" stroke="#1a1a1a" stroke-width="1.25"/>
<line x1="184.5" y1="270.1" x2="255.3" y2="270.1" stroke="#1a1a1a" stroke-width="1.25"/>
<line x1="182.5" y1="270.1" x2="185" y2="270.1" stroke="#1a1a1a" stroke-width="0.9"/>
<text x="179" y="272.9" font-size="6.5" text-anchor="end" fill="#3a3a3a" stroke="#3a3a3a" stroke-width="0.18">0</text>
<line x1="182.5" y1="255.96" x2="185" y2="255.96" stroke="#1a1a1a" stroke-width="0.9"/>
<text x="179" y="258.76" font-size="6.5" text-anchor="end" fill="#3a3a3a" stroke="#3a3a3a" stroke-width="0.18">5000</text>
<line x1="182.5" y1="241.82" x2="185" y2="241.82" stroke="#1a1a1a" stroke-width="0.9"/>
<text x="179" y="244.62" font-size="6.5" text-anchor="end" fill="#3a3a3a" stroke="#3a3a3a" stroke-width="0.18">10000</text>
<line x1="182.5" y1="227.68" x2="185" y2="227.68" stroke="#1a1a1a" stroke-width="0.9"/>
<text x="179" y="230.48" font-size="6.5" text-anchor="end" fill="#3a3a3a" stroke="#3a3a3a" stroke-width="0.18">15000</text>
<line x1="182.5" y1="213.54" x2="185" y2="213.54" stroke="#1a1a1a" stroke-width="0.9"/>
<text x="179" y="216.34" font-size="6.5" text-anchor="end" fill="#3a3a3a" stroke="#3a3a3a" stroke-width="0.18">20000</text>
<line x1="182.5" y1="199.4" x2="185" y2="199.4" stroke="#1a1a1a" stroke-width="0.9"/>
<text x="179" y="202.2" font-size="6.5" text-anchor="end" fill="#3a3a3a" stroke="#3a3a3a" stroke-width="0.18">25000</text>
<line x1="192.5" y1="270.1" x2="192.5" y2="272.4" stroke="#1a1a1a" stroke-width="0.9"/>
<line x1="203.53" y1="270.1" x2="203.53" y2="272.4" stroke="#1a1a1a" stroke-width="0.9"/>
<line x1="214.56" y1="270.1" x2="214.56" y2="272.4" stroke="#1a1a1a" stroke-width="0.9"/>
<line x1="225.59" y1="270.1" x2="225.59" y2="272.4" stroke="#1a1a1a" stroke-width="0.9"/>
<line x1="236.62" y1="270.1" x2="236.62" y2="272.4" stroke="#1a1a1a" stroke-width="0.9"/>
<line x1="247.65" y1="270.1" x2="247.65" y2="272.4" stroke="#1a1a1a" stroke-width="0.9"/>
<line x1="192" y1="255" x2="203.83" y2="255" stroke="#222" stroke-width="1.3"/>
<text x="198.01" y="253.5" font-size="6.6" text-anchor="middle" fill="#3a3a3a" stroke="#3a3a3a" stroke-width="0.18">ns</text>
<line x1="192" y1="247.6" x2="214.86" y2="247.6" stroke="#222" stroke-width="1.3"/>
<text x="203.53" y="248" font-size="6.5" text-anchor="middle" fill="#222" stroke="#222" stroke-width="0.18">**</text>
<line x1="225.09" y1="200.8" x2="236.92" y2="200.8" stroke="#222" stroke-width="1.3"/>
<text x="231.11" y="199.3" font-size="6.6" text-anchor="middle" fill="#3a3a3a" stroke="#3a3a3a" stroke-width="0.18">ns</text>
<line x1="225.09" y1="192" x2="247.95" y2="192" stroke="#222" stroke-width="1.3"/>
<text x="236.62" y="192.4" font-size="6.5" text-anchor="middle" fill="#222" stroke="#222" stroke-width="0.18">*</text>
<text x="192.8" y="279.5" font-size="6.8" text-anchor="end" fill="#3a3a3a" transform="rotate(-45 192.8 279.5)" stroke="#3a3a3a" stroke-width="0.18">HC</text>
<text x="203.83" y="279.5" font-size="6.8" text-anchor="end" fill="#3a3a3a" transform="rotate(-45 203.83 279.5)" stroke="#3a3a3a" stroke-width="0.18">HC + FDi</text>
<text x="214.86" y="279.5" font-size="6.8" text-anchor="end" fill="#3a3a3a" transform="rotate(-45 214.86 279.5)" stroke="#3a3a3a" stroke-width="0.18">HC + sut</text>
<text x="225.89" y="279.5" font-size="6.8" text-anchor="end" fill="#3a3a3a" transform="rotate(-45 225.89 279.5)" stroke="#3a3a3a" stroke-width="0.18">CM-TMA</text>
<text x="236.92" y="279.5" font-size="6.8" text-anchor="end" fill="#3a3a3a" transform="rotate(-45 236.92 279.5)" stroke="#3a3a3a" stroke-width="0.18">CM-TMA + FDi</text>
<text x="247.95" y="279.5" font-size="6.8" text-anchor="end" fill="#3a3a3a" transform="rotate(-45 247.95 279.5)" stroke="#3a3a3a" stroke-width="0.18">CM-TMA + sut</text>
<text x="155.3" y="232.6" font-size="8.6" text-anchor="middle" fill="#3a3a3a" transform="rotate(-90 155.3 232.6)" textLength="60.7" lengthAdjust="spacingAndGlyphs" stroke="#3a3a3a" stroke-width="0.18">C3c MFI on WT cells</text>
<text x="0" y="0" font-size="10.6" font-weight="bold" fill="#111" transform="translate(6.8 347.8) scale(1.14 1)">G</text>
<path d="M53 427.1 L64.48 427.1 L75.96 434.39" fill="none" stroke="#7e79bb" stroke-width="0.85"/>
<path d="M53 428.01 L64.48 428.92 L75.96 435.3" fill="none" stroke="#7e79bb" stroke-width="0.85"/>
<path d="M53 428.92 L64.48 431.66 L75.96 435.3" fill="none" stroke="#7e79bb" stroke-width="0.85"/>
<path d="M53 429.83 L64.48 433.48 L75.96 435.3" fill="none" stroke="#7e79bb" stroke-width="0.85"/>
<path d="M87.44 371.51 L98.92 426.19 L110.4 433.48" fill="none" stroke="#7e79bb" stroke-width="0.85"/>
<path d="M87.44 376.07 L98.92 427.1 L110.4 429.83" fill="none" stroke="#7e79bb" stroke-width="0.85"/>
<path d="M87.44 387 L98.92 399.76 L110.4 428.92" fill="none" stroke="#7e79bb" stroke-width="0.85"/>
<path d="M87.44 397.03 L98.92 431.66 L110.4 434.39" fill="none" stroke="#7e79bb" stroke-width="0.85"/>
<path d="M87.44 413.43 L98.92 413.43 L110.4 425.28" fill="none" stroke="#7e79bb" stroke-width="0.85"/>
<circle cx="53" cy="427.1" r="1.7" fill="#716bad"/>
<circle cx="64.48" cy="427.1" r="1.7" fill="#716bad"/>
<circle cx="75.96" cy="434.39" r="1.7" fill="#716bad"/>
<circle cx="53" cy="428.01" r="1.7" fill="#716bad"/>
<circle cx="64.48" cy="428.92" r="1.7" fill="#716bad"/>
<circle cx="75.96" cy="435.3" r="1.7" fill="#716bad"/>
<circle cx="53" cy="428.92" r="1.7" fill="#716bad"/>
<circle cx="64.48" cy="431.66" r="1.7" fill="#716bad"/>
<circle cx="75.96" cy="435.3" r="1.7" fill="#716bad"/>
<circle cx="53" cy="429.83" r="1.7" fill="#716bad"/>
<circle cx="64.48" cy="433.48" r="1.7" fill="#716bad"/>
<circle cx="75.96" cy="435.3" r="1.7" fill="#716bad"/>
<circle cx="87.44" cy="371.51" r="1.7" fill="#716bad"/>
<circle cx="98.92" cy="426.19" r="1.7" fill="#716bad"/>
<circle cx="110.4" cy="433.48" r="1.7" fill="#716bad"/>
<circle cx="87.44" cy="376.07" r="1.7" fill="#716bad"/>
<circle cx="98.92" cy="427.1" r="1.7" fill="#716bad"/>
<circle cx="110.4" cy="429.83" r="1.7" fill="#716bad"/>
<circle cx="87.44" cy="387" r="1.7" fill="#716bad"/>
<circle cx="98.92" cy="399.76" r="1.7" fill="#716bad"/>
<circle cx="110.4" cy="428.92" r="1.7" fill="#716bad"/>
<circle cx="87.44" cy="397.03" r="1.7" fill="#716bad"/>
<circle cx="98.92" cy="431.66" r="1.7" fill="#716bad"/>
<circle cx="110.4" cy="434.39" r="1.7" fill="#716bad"/>
<circle cx="87.44" cy="413.43" r="1.7" fill="#716bad"/>
<circle cx="98.92" cy="413.43" r="1.7" fill="#716bad"/>
<circle cx="110.4" cy="425.28" r="1.7" fill="#716bad"/>
<line x1="45.4" y1="360.1" x2="45.4" y2="435.8" stroke="#1a1a1a" stroke-width="1.25"/>
<line x1="44.9" y1="435.3" x2="118.8" y2="435.3" stroke="#1a1a1a" stroke-width="1.25"/>
<line x1="42.9" y1="435.3" x2="45.4" y2="435.3" stroke="#1a1a1a" stroke-width="0.9"/>
<text x="39.4" y="438.1" font-size="6.5" text-anchor="end" fill="#3a3a3a" stroke="#3a3a3a" stroke-width="0.18">0</text>
<line x1="42.9" y1="417.07" x2="45.4" y2="417.07" stroke="#1a1a1a" stroke-width="0.9"/>
<text x="39.4" y="419.88" font-size="6.5" text-anchor="end" fill="#3a3a3a" stroke="#3a3a3a" stroke-width="0.18">10</text>
<line x1="42.9" y1="398.85" x2="45.4" y2="398.85" stroke="#1a1a1a" stroke-width="0.9"/>
<text x="39.4" y="401.65" font-size="6.5" text-anchor="end" fill="#3a3a3a" stroke="#3a3a3a" stroke-width="0.18">20</text>
<line x1="42.9" y1="380.62" x2="45.4" y2="380.62" stroke="#1a1a1a" stroke-width="0.9"/>
<text x="39.4" y="383.43" font-size="6.5" text-anchor="end" fill="#3a3a3a" stroke="#3a3a3a" stroke-width="0.18">30</text>
<line x1="42.9" y1="362.4" x2="45.4" y2="362.4" stroke="#1a1a1a" stroke-width="0.9"/>
<text x="39.4" y="365.2" font-size="6.5" text-anchor="end" fill="#3a3a3a" stroke="#3a3a3a" stroke-width="0.18">40</text>
<line x1="53" y1="435.3" x2="53" y2="437.6" stroke="#1a1a1a" stroke-width="0.9"/>
<line x1="64.48" y1="435.3" x2="64.48" y2="437.6" stroke="#1a1a1a" stroke-width="0.9"/>
<line x1="75.96" y1="435.3" x2="75.96" y2="437.6" stroke="#1a1a1a" stroke-width="0.9"/>
<line x1="87.44" y1="435.3" x2="87.44" y2="437.6" stroke="#1a1a1a" stroke-width="0.9"/>
<line x1="98.92" y1="435.3" x2="98.92" y2="437.6" stroke="#1a1a1a" stroke-width="0.9"/>
<line x1="110.4" y1="435.3" x2="110.4" y2="437.6" stroke="#1a1a1a" stroke-width="0.9"/>
<line x1="52.5" y1="421.3" x2="64.78" y2="421.3" stroke="#222" stroke-width="1.3"/>
<text x="58.74" y="419.8" font-size="6.6" text-anchor="middle" fill="#3a3a3a" stroke="#3a3a3a" stroke-width="0.18">ns</text>
<line x1="52.5" y1="411.2" x2="76.26" y2="411.2" stroke="#222" stroke-width="1.3"/>
<text x="64.48" y="411.6" font-size="6.5" text-anchor="middle" fill="#222" stroke="#222" stroke-width="0.18">*</text>
<line x1="86.94" y1="365.2" x2="99.22" y2="365.2" stroke="#222" stroke-width="1.3"/>
<text x="93.18" y="363.7" font-size="6.6" text-anchor="middle" fill="#3a3a3a" stroke="#3a3a3a" stroke-width="0.18">ns</text>
<line x1="86.94" y1="356.1" x2="110.7" y2="356.1" stroke="#222" stroke-width="1.3"/>
<text x="98.92" y="356.5" font-size="6.5" text-anchor="middle" fill="#222" stroke="#222" stroke-width="0.18">**</text>
<text x="53.3" y="444.7" font-size="6.8" text-anchor="end" fill="#3a3a3a" transform="rotate(-45 53.3 444.7)" stroke="#3a3a3a" stroke-width="0.18">HC</text>
<text x="64.78" y="444.7" font-size="6.8" text-anchor="end" fill="#3a3a3a" transform="rotate(-45 64.78 444.7)" stroke="#3a3a3a" stroke-width="0.18">HC + FDi</text>
<text x="76.26" y="444.7" font-size="6.8" text-anchor="end" fill="#3a3a3a" transform="rotate(-45 76.26 444.7)" stroke="#3a3a3a" stroke-width="0.18">HC + sut</text>
<text x="87.74" y="444.7" font-size="6.8" text-anchor="end" fill="#3a3a3a" transform="rotate(-45 87.74 444.7)" stroke="#3a3a3a" stroke-width="0.18">CM-TMA</text>
<text x="99.22" y="444.7" font-size="6.8" text-anchor="end" fill="#3a3a3a" transform="rotate(-45 99.22 444.7)" stroke="#3a3a3a" stroke-width="0.18">CM-TMA + FDi</text>
<text x="110.7" y="444.7" font-size="6.8" text-anchor="end" fill="#3a3a3a" transform="rotate(-45 110.7 444.7)" stroke="#3a3a3a" stroke-width="0.18">CM-TMA + sut</text>
<text x="27.2" y="396.5" font-size="8.6" text-anchor="middle" fill="#3a3a3a" transform="rotate(-90 27.2 396.5)" textLength="81.5" lengthAdjust="spacingAndGlyphs" stroke="#3a3a3a" stroke-width="0.18">% C4d positive <tspan font-style="italic">PIGAKO</tspan> cells</text>
<text x="0" y="0" font-size="10.6" font-weight="bold" fill="#111" transform="translate(135.2 347.8) scale(1.14 1)">H</text>
<path d="M191.9 430.74 L202.7 432.24 L213.5 435.1" fill="none" stroke="#7e79bb" stroke-width="0.85"/>
<path d="M191.9 431.9 L202.7 433.94 L213.5 435.3" fill="none" stroke="#7e79bb" stroke-width="0.85"/>
<path d="M191.9 433.94 L202.7 434.96 L213.5 435.3" fill="none" stroke="#7e79bb" stroke-width="0.85"/>
<path d="M224.3 380.22 L235.1 414.22 L245.9 435.3" fill="none" stroke="#7e79bb" stroke-width="0.85"/>
<path d="M224.3 395.18 L235.1 405.38 L245.9 426.46" fill="none" stroke="#7e79bb" stroke-width="0.85"/>
<path d="M224.3 405.04 L235.1 414.22 L245.9 422.04" fill="none" stroke="#7e79bb" stroke-width="0.85"/>
<path d="M224.3 426.46 L235.1 428.5 L245.9 435.3" fill="none" stroke="#7e79bb" stroke-width="0.85"/>
<path d="M224.3 430.88 L235.1 431.56 L245.9 435.3" fill="none" stroke="#7e79bb" stroke-width="0.85"/>
<circle cx="191.9" cy="430.74" r="1.7" fill="#716bad"/>
<circle cx="202.7" cy="432.24" r="1.7" fill="#716bad"/>
<circle cx="213.5" cy="435.1" r="1.7" fill="#716bad"/>
<circle cx="191.9" cy="431.9" r="1.7" fill="#716bad"/>
<circle cx="202.7" cy="433.94" r="1.7" fill="#716bad"/>
<circle cx="213.5" cy="435.3" r="1.7" fill="#716bad"/>
<circle cx="191.9" cy="433.94" r="1.7" fill="#716bad"/>
<circle cx="202.7" cy="434.96" r="1.7" fill="#716bad"/>
<circle cx="213.5" cy="435.3" r="1.7" fill="#716bad"/>
<circle cx="224.3" cy="380.22" r="1.7" fill="#716bad"/>
<circle cx="235.1" cy="414.22" r="1.7" fill="#716bad"/>
<circle cx="245.9" cy="435.3" r="1.7" fill="#716bad"/>
<circle cx="224.3" cy="395.18" r="1.7" fill="#716bad"/>
<circle cx="235.1" cy="405.38" r="1.7" fill="#716bad"/>
<circle cx="245.9" cy="426.46" r="1.7" fill="#716bad"/>
<circle cx="224.3" cy="405.04" r="1.7" fill="#716bad"/>
<circle cx="235.1" cy="414.22" r="1.7" fill="#716bad"/>
<circle cx="245.9" cy="422.04" r="1.7" fill="#716bad"/>
<circle cx="224.3" cy="426.46" r="1.7" fill="#716bad"/>
<circle cx="235.1" cy="428.5" r="1.7" fill="#716bad"/>
<circle cx="245.9" cy="435.3" r="1.7" fill="#716bad"/>
<circle cx="224.3" cy="430.88" r="1.7" fill="#716bad"/>
<circle cx="235.1" cy="431.56" r="1.7" fill="#716bad"/>
<circle cx="245.9" cy="435.3" r="1.7" fill="#716bad"/>
<line x1="184.8" y1="364.6" x2="184.8" y2="435.8" stroke="#1a1a1a" stroke-width="1.25"/>
<line x1="184.3" y1="435.3" x2="253.8" y2="435.3" stroke="#1a1a1a" stroke-width="1.25"/>
<line x1="182.3" y1="435.3" x2="184.8" y2="435.3" stroke="#1a1a1a" stroke-width="0.9"/>
<text x="178.8" y="438.1" font-size="6.5" text-anchor="end" fill="#3a3a3a" stroke="#3a3a3a" stroke-width="0.18">0</text>
<line x1="182.3" y1="421.7" x2="184.8" y2="421.7" stroke="#1a1a1a" stroke-width="0.9"/>
<text x="178.8" y="424.5" font-size="6.5" text-anchor="end" fill="#3a3a3a" stroke="#3a3a3a" stroke-width="0.18">20000</text>
<line x1="182.3" y1="408.1" x2="184.8" y2="408.1" stroke="#1a1a1a" stroke-width="0.9"/>
<text x="178.8" y="410.9" font-size="6.5" text-anchor="end" fill="#3a3a3a" stroke="#3a3a3a" stroke-width="0.18">40000</text>
<line x1="182.3" y1="394.5" x2="184.8" y2="394.5" stroke="#1a1a1a" stroke-width="0.9"/>
<text x="178.8" y="397.3" font-size="6.5" text-anchor="end" fill="#3a3a3a" stroke="#3a3a3a" stroke-width="0.18">60000</text>
<line x1="182.3" y1="380.9" x2="184.8" y2="380.9" stroke="#1a1a1a" stroke-width="0.9"/>
<text x="178.8" y="383.7" font-size="6.5" text-anchor="end" fill="#3a3a3a" stroke="#3a3a3a" stroke-width="0.18">80000</text>
<line x1="182.3" y1="367.3" x2="184.8" y2="367.3" stroke="#1a1a1a" stroke-width="0.9"/>
<text x="178.8" y="370.1" font-size="6.5" text-anchor="end" fill="#3a3a3a" stroke="#3a3a3a" stroke-width="0.18">100000</text>
<line x1="191.9" y1="435.3" x2="191.9" y2="437.6" stroke="#1a1a1a" stroke-width="0.9"/>
<line x1="202.7" y1="435.3" x2="202.7" y2="437.6" stroke="#1a1a1a" stroke-width="0.9"/>
<line x1="213.5" y1="435.3" x2="213.5" y2="437.6" stroke="#1a1a1a" stroke-width="0.9"/>
<line x1="224.3" y1="435.3" x2="224.3" y2="437.6" stroke="#1a1a1a" stroke-width="0.9"/>
<line x1="235.1" y1="435.3" x2="235.1" y2="437.6" stroke="#1a1a1a" stroke-width="0.9"/>
<line x1="245.9" y1="435.3" x2="245.9" y2="437.6" stroke="#1a1a1a" stroke-width="0.9"/>
<line x1="191.4" y1="425.7" x2="203" y2="425.7" stroke="#222" stroke-width="1.3"/>
<text x="197.3" y="424.2" font-size="6.6" text-anchor="middle" fill="#3a3a3a" stroke="#3a3a3a" stroke-width="0.18">ns</text>
<line x1="191.4" y1="418.8" x2="213.8" y2="418.8" stroke="#222" stroke-width="1.3"/>
<text x="202.7" y="419.2" font-size="6.5" text-anchor="middle" fill="#222" stroke="#222" stroke-width="0.18">*</text>
<line x1="223.8" y1="375.4" x2="235.4" y2="375.4" stroke="#222" stroke-width="1.3"/>
<text x="229.7" y="373.9" font-size="6.6" text-anchor="middle" fill="#3a3a3a" stroke="#3a3a3a" stroke-width="0.18">ns</text>
<line x1="223.8" y1="367.3" x2="246.2" y2="367.3" stroke="#222" stroke-width="1.3"/>
<text x="235.1" y="367.7" font-size="6.5" text-anchor="middle" fill="#222" stroke="#222" stroke-width="0.18">**</text>
<text x="192.2" y="444.7" font-size="6.8" text-anchor="end" fill="#3a3a3a" transform="rotate(-45 192.2 444.7)" stroke="#3a3a3a" stroke-width="0.18">HC</text>
<text x="203" y="444.7" font-size="6.8" text-anchor="end" fill="#3a3a3a" transform="rotate(-45 203 444.7)" stroke="#3a3a3a" stroke-width="0.18">HC + FDi</text>
<text x="213.8" y="444.7" font-size="6.8" text-anchor="end" fill="#3a3a3a" transform="rotate(-45 213.8 444.7)" stroke="#3a3a3a" stroke-width="0.18">HC + sut</text>
<text x="224.6" y="444.7" font-size="6.8" text-anchor="end" fill="#3a3a3a" transform="rotate(-45 224.6 444.7)" stroke="#3a3a3a" stroke-width="0.18">CM-TMA</text>
<text x="235.4" y="444.7" font-size="6.8" text-anchor="end" fill="#3a3a3a" transform="rotate(-45 235.4 444.7)" stroke="#3a3a3a" stroke-width="0.18">CM-TMA + FDi</text>
<text x="246.2" y="444.7" font-size="6.8" text-anchor="end" fill="#3a3a3a" transform="rotate(-45 246.2 444.7)" stroke="#3a3a3a" stroke-width="0.18">CM-TMA + sut</text>
<text x="153" y="399.5" font-size="8.6" text-anchor="middle" fill="#3a3a3a" transform="rotate(-90 153 399.5)" textLength="72.5" lengthAdjust="spacingAndGlyphs" stroke="#3a3a3a" stroke-width="0.18">C3c MFI on <tspan font-style="italic">PIGAKO</tspan> cells</text>
<text x="0" y="0" font-size="10.6" font-weight="bold" fill="#111" transform="translate(7.5 513.6) scale(1.14 1)">J</text>
<path d="M53 566.25 L64.48 598.5 L75.96 594.1" fill="none" stroke="#7e79bb" stroke-width="0.85"/>
<path d="M53 570.65 L64.48 586.77 L75.96 595.57" fill="none" stroke="#7e79bb" stroke-width="0.85"/>
<path d="M53 575.04 L64.48 588.97 L75.96 597.03" fill="none" stroke="#7e79bb" stroke-width="0.85"/>
<path d="M53 580.91 L64.48 592.64 L75.96 598.5" fill="none" stroke="#7e79bb" stroke-width="0.85"/>
<path d="M87.44 535.46 L98.92 560.38 L110.4 591.9" fill="none" stroke="#7e79bb" stroke-width="0.85"/>
<path d="M87.44 539.86 L98.92 564.05 L110.4 593.37" fill="none" stroke="#7e79bb" stroke-width="0.85"/>
<path d="M87.44 544.26 L98.92 573.58 L110.4 595.57" fill="none" stroke="#7e79bb" stroke-width="0.85"/>
<path d="M87.44 544.26 L98.92 580.91 L110.4 597.03" fill="none" stroke="#7e79bb" stroke-width="0.85"/>
<path d="M87.44 553.05 L98.92 588.97 L110.4 598.5" fill="none" stroke="#7e79bb" stroke-width="0.85"/>
<circle cx="53" cy="566.25" r="1.7" fill="#716bad"/>
<circle cx="64.48" cy="598.5" r="1.7" fill="#716bad"/>
<circle cx="75.96" cy="594.1" r="1.7" fill="#716bad"/>
<circle cx="53" cy="570.65" r="1.7" fill="#716bad"/>
<circle cx="64.48" cy="586.77" r="1.7" fill="#716bad"/>
<circle cx="75.96" cy="595.57" r="1.7" fill="#716bad"/>
<circle cx="53" cy="575.04" r="1.7" fill="#716bad"/>
<circle cx="64.48" cy="588.97" r="1.7" fill="#716bad"/>
<circle cx="75.96" cy="597.03" r="1.7" fill="#716bad"/>
<circle cx="53" cy="580.91" r="1.7" fill="#716bad"/>
<circle cx="64.48" cy="592.64" r="1.7" fill="#716bad"/>
<circle cx="75.96" cy="598.5" r="1.7" fill="#716bad"/>
<circle cx="87.44" cy="535.46" r="1.7" fill="#716bad"/>
<circle cx="98.92" cy="560.38" r="1.7" fill="#716bad"/>
<circle cx="110.4" cy="591.9" r="1.7" fill="#716bad"/>
<circle cx="87.44" cy="539.86" r="1.7" fill="#716bad"/>
<circle cx="98.92" cy="564.05" r="1.7" fill="#716bad"/>
<circle cx="110.4" cy="593.37" r="1.7" fill="#716bad"/>
<circle cx="87.44" cy="544.26" r="1.7" fill="#716bad"/>
<circle cx="98.92" cy="573.58" r="1.7" fill="#716bad"/>
<circle cx="110.4" cy="595.57" r="1.7" fill="#716bad"/>
<circle cx="87.44" cy="544.26" r="1.7" fill="#716bad"/>
<circle cx="98.92" cy="580.91" r="1.7" fill="#716bad"/>
<circle cx="110.4" cy="597.03" r="1.7" fill="#716bad"/>
<circle cx="87.44" cy="553.05" r="1.7" fill="#716bad"/>
<circle cx="98.92" cy="588.97" r="1.7" fill="#716bad"/>
<circle cx="110.4" cy="598.5" r="1.7" fill="#716bad"/>
<line x1="45.4" y1="522.7" x2="45.4" y2="599" stroke="#1a1a1a" stroke-width="1.25"/>
<line x1="44.9" y1="598.5" x2="118.5" y2="598.5" stroke="#1a1a1a" stroke-width="1.25"/>
<line x1="42.9" y1="598.5" x2="45.4" y2="598.5" stroke="#1a1a1a" stroke-width="0.9"/>
<text x="39.4" y="601.3" font-size="6.5" text-anchor="end" fill="#3a3a3a" stroke="#3a3a3a" stroke-width="0.18">0</text>
<line x1="42.9" y1="583.84" x2="45.4" y2="583.84" stroke="#1a1a1a" stroke-width="0.9"/>
<text x="39.4" y="586.64" font-size="6.5" text-anchor="end" fill="#3a3a3a" stroke="#3a3a3a" stroke-width="0.18">20</text>
<line x1="42.9" y1="569.18" x2="45.4" y2="569.18" stroke="#1a1a1a" stroke-width="0.9"/>
<text x="39.4" y="571.98" font-size="6.5" text-anchor="end" fill="#3a3a3a" stroke="#3a3a3a" stroke-width="0.18">40</text>
<line x1="42.9" y1="554.52" x2="45.4" y2="554.52" stroke="#1a1a1a" stroke-width="0.9"/>
<text x="39.4" y="557.32" font-size="6.5" text-anchor="end" fill="#3a3a3a" stroke="#3a3a3a" stroke-width="0.18">60</text>
<line x1="42.9" y1="539.86" x2="45.4" y2="539.86" stroke="#1a1a1a" stroke-width="0.9"/>
<text x="39.4" y="542.66" font-size="6.5" text-anchor="end" fill="#3a3a3a" stroke="#3a3a3a" stroke-width="0.18">80</text>
<line x1="42.9" y1="525.2" x2="45.4" y2="525.2" stroke="#1a1a1a" stroke-width="0.9"/>
<text x="39.4" y="528" font-size="6.5" text-anchor="end" fill="#3a3a3a" stroke="#3a3a3a" stroke-width="0.18">100</text>
<line x1="53" y1="598.5" x2="53" y2="600.8" stroke="#1a1a1a" stroke-width="0.9"/>
<line x1="64.48" y1="598.5" x2="64.48" y2="600.8" stroke="#1a1a1a" stroke-width="0.9"/>
<line x1="75.96" y1="598.5" x2="75.96" y2="600.8" stroke="#1a1a1a" stroke-width="0.9"/>
<line x1="87.44" y1="598.5" x2="87.44" y2="600.8" stroke="#1a1a1a" stroke-width="0.9"/>
<line x1="98.92" y1="598.5" x2="98.92" y2="600.8" stroke="#1a1a1a" stroke-width="0.9"/>
<line x1="110.4" y1="598.5" x2="110.4" y2="600.8" stroke="#1a1a1a" stroke-width="0.9"/>
<line x1="52.5" y1="559.9" x2="64.78" y2="559.9" stroke="#222" stroke-width="1.3"/>
<text x="58.74" y="558.4" font-size="6.6" text-anchor="middle" fill="#3a3a3a" stroke="#3a3a3a" stroke-width="0.18">ns</text>
<line x1="52.5" y1="552.5" x2="76.26" y2="552.5" stroke="#222" stroke-width="1.3"/>
<text x="64.48" y="552.9" font-size="6.5" text-anchor="middle" fill="#222" stroke="#222" stroke-width="0.18">*</text>
<line x1="86.94" y1="529.2" x2="99.22" y2="529.2" stroke="#222" stroke-width="1.3"/>
<text x="93.18" y="527.7" font-size="6.6" text-anchor="middle" fill="#3a3a3a" stroke="#3a3a3a" stroke-width="0.18">ns</text>
<line x1="86.94" y1="522.2" x2="110.7" y2="522.2" stroke="#222" stroke-width="1.3"/>
<text x="98.92" y="522.6" font-size="6.5" text-anchor="middle" fill="#222" stroke="#222" stroke-width="0.18">***</text>
<text x="53.3" y="607.9" font-size="6.8" text-anchor="end" fill="#3a3a3a" transform="rotate(-45 53.3 607.9)" stroke="#3a3a3a" stroke-width="0.18">HC</text>
<text x="64.78" y="607.9" font-size="6.8" text-anchor="end" fill="#3a3a3a" transform="rotate(-45 64.78 607.9)" stroke="#3a3a3a" stroke-width="0.18">HC + FDi</text>
<text x="76.26" y="607.9" font-size="6.8" text-anchor="end" fill="#3a3a3a" transform="rotate(-45 76.26 607.9)" stroke="#3a3a3a" stroke-width="0.18">HC + sut</text>
<text x="87.74" y="607.9" font-size="6.8" text-anchor="end" fill="#3a3a3a" transform="rotate(-45 87.74 607.9)" stroke="#3a3a3a" stroke-width="0.18">CM-TMA</text>
<text x="99.22" y="607.9" font-size="6.8" text-anchor="end" fill="#3a3a3a" transform="rotate(-45 99.22 607.9)" stroke="#3a3a3a" stroke-width="0.18">CM-TMA + FDi</text>
<text x="110.7" y="607.9" font-size="6.8" text-anchor="end" fill="#3a3a3a" transform="rotate(-45 110.7 607.9)" stroke="#3a3a3a" stroke-width="0.18">CM-TMA + sut</text>
<text x="24.5" y="560.5" font-size="8.6" text-anchor="middle" fill="#3a3a3a" transform="rotate(-90 24.5 560.5)" textLength="85.5" lengthAdjust="spacingAndGlyphs" stroke="#3a3a3a" stroke-width="0.18">% C4d positive <tspan font-style="italic">CD46</tspan>KO cells</text>
<text x="0" y="0" font-size="10.6" font-weight="bold" fill="#111" transform="translate(135.3 513.6) scale(1.14 1)">K</text>
<path d="M192.2 594.49 L203.22 597.56 L214.24 598.26" fill="none" stroke="#7e79bb" stroke-width="0.85"/>
<path d="M192.2 596.14 L203.22 598.03 L214.24 598.5" fill="none" stroke="#7e79bb" stroke-width="0.85"/>
<path d="M192.2 597.09 L203.22 598.03 L214.24 598.5" fill="none" stroke="#7e79bb" stroke-width="0.85"/>
<path d="M225.26 545.71 L236.28 541.47 L247.3 597.09" fill="none" stroke="#7e79bb" stroke-width="0.85"/>
<path d="M225.26 545.71 L236.28 549.95 L247.3 578.23" fill="none" stroke="#7e79bb" stroke-width="0.85"/>
<path d="M225.26 588.84 L236.28 593.32 L247.3 597.09" fill="none" stroke="#7e79bb" stroke-width="0.85"/>
<path d="M225.26 591.05 L236.28 593.79 L247.3 596.14" fill="none" stroke="#7e79bb" stroke-width="0.85"/>
<path d="M225.26 598.26 L236.28 598.36 L247.3 598.5" fill="none" stroke="#7e79bb" stroke-width="0.85"/>
<circle cx="192.2" cy="594.49" r="1.7" fill="#716bad"/>
<circle cx="203.22" cy="597.56" r="1.7" fill="#716bad"/>
<circle cx="214.24" cy="598.26" r="1.7" fill="#716bad"/>
<circle cx="192.2" cy="596.14" r="1.7" fill="#716bad"/>
<circle cx="203.22" cy="598.03" r="1.7" fill="#716bad"/>
<circle cx="214.24" cy="598.5" r="1.7" fill="#716bad"/>
<circle cx="192.2" cy="597.09" r="1.7" fill="#716bad"/>
<circle cx="203.22" cy="598.03" r="1.7" fill="#716bad"/>
<circle cx="214.24" cy="598.5" r="1.7" fill="#716bad"/>
<circle cx="225.26" cy="545.71" r="1.7" fill="#716bad"/>
<circle cx="236.28" cy="541.47" r="1.7" fill="#716bad"/>
<circle cx="247.3" cy="597.09" r="1.7" fill="#716bad"/>
<circle cx="225.26" cy="545.71" r="1.7" fill="#716bad"/>
<circle cx="236.28" cy="549.95" r="1.7" fill="#716bad"/>
<circle cx="247.3" cy="578.23" r="1.7" fill="#716bad"/>
<circle cx="225.26" cy="588.84" r="1.7" fill="#716bad"/>
<circle cx="236.28" cy="593.32" r="1.7" fill="#716bad"/>
<circle cx="247.3" cy="597.09" r="1.7" fill="#716bad"/>
<circle cx="225.26" cy="591.05" r="1.7" fill="#716bad"/>
<circle cx="236.28" cy="593.79" r="1.7" fill="#716bad"/>
<circle cx="247.3" cy="596.14" r="1.7" fill="#716bad"/>
<circle cx="225.26" cy="598.26" r="1.7" fill="#716bad"/>
<circle cx="236.28" cy="598.36" r="1.7" fill="#716bad"/>
<circle cx="247.3" cy="598.5" r="1.7" fill="#716bad"/>
<line x1="184.8" y1="525.4" x2="184.8" y2="599" stroke="#1a1a1a" stroke-width="1.25"/>
<line x1="184.3" y1="598.5" x2="255.3" y2="598.5" stroke="#1a1a1a" stroke-width="1.25"/>
<line x1="182.3" y1="598.5" x2="184.8" y2="598.5" stroke="#1a1a1a" stroke-width="0.9"/>
<text x="178.8" y="601.3" font-size="6.5" text-anchor="end" fill="#3a3a3a" stroke="#3a3a3a" stroke-width="0.18">0</text>
<line x1="182.3" y1="574.93" x2="184.8" y2="574.93" stroke="#1a1a1a" stroke-width="0.9"/>
<text x="178.8" y="577.73" font-size="6.5" text-anchor="end" fill="#3a3a3a" stroke="#3a3a3a" stroke-width="0.18">50000</text>
<line x1="182.3" y1="551.37" x2="184.8" y2="551.37" stroke="#1a1a1a" stroke-width="0.9"/>
<text x="178.8" y="554.17" font-size="6.5" text-anchor="end" fill="#3a3a3a" stroke="#3a3a3a" stroke-width="0.18">100000</text>
<line x1="182.3" y1="527.8" x2="184.8" y2="527.8" stroke="#1a1a1a" stroke-width="0.9"/>
<text x="178.8" y="530.6" font-size="6.5" text-anchor="end" fill="#3a3a3a" stroke="#3a3a3a" stroke-width="0.18">150000</text>
<line x1="192.2" y1="598.5" x2="192.2" y2="600.8" stroke="#1a1a1a" stroke-width="0.9"/>
<line x1="203.22" y1="598.5" x2="203.22" y2="600.8" stroke="#1a1a1a" stroke-width="0.9"/>
<line x1="214.24" y1="598.5" x2="214.24" y2="600.8" stroke="#1a1a1a" stroke-width="0.9"/>
<line x1="225.26" y1="598.5" x2="225.26" y2="600.8" stroke="#1a1a1a" stroke-width="0.9"/>
<line x1="236.28" y1="598.5" x2="236.28" y2="600.8" stroke="#1a1a1a" stroke-width="0.9"/>
<line x1="247.3" y1="598.5" x2="247.3" y2="600.8" stroke="#1a1a1a" stroke-width="0.9"/>
<line x1="191.7" y1="589.6" x2="203.52" y2="589.6" stroke="#222" stroke-width="1.3"/>
<text x="197.71" y="588.1" font-size="6.6" text-anchor="middle" fill="#3a3a3a" stroke="#3a3a3a" stroke-width="0.18">ns</text>
<line x1="191.7" y1="582.2" x2="214.54" y2="582.2" stroke="#222" stroke-width="1.3"/>
<text x="203.22" y="582.6" font-size="6.5" text-anchor="middle" fill="#222" stroke="#222" stroke-width="0.18">**</text>
<line x1="224.76" y1="534.9" x2="236.58" y2="534.9" stroke="#222" stroke-width="1.3"/>
<text x="230.77" y="533.4" font-size="6.6" text-anchor="middle" fill="#3a3a3a" stroke="#3a3a3a" stroke-width="0.18">ns</text>
<line x1="224.76" y1="526.8" x2="247.6" y2="526.8" stroke="#222" stroke-width="1.3"/>
<text x="236.28" y="527.2" font-size="6.5" text-anchor="middle" fill="#222" stroke="#222" stroke-width="0.18">**</text>
<text x="192.5" y="607.9" font-size="6.8" text-anchor="end" fill="#3a3a3a" transform="rotate(-45 192.5 607.9)" stroke="#3a3a3a" stroke-width="0.18">HC</text>
<text x="203.52" y="607.9" font-size="6.8" text-anchor="end" fill="#3a3a3a" transform="rotate(-45 203.52 607.9)" stroke="#3a3a3a" stroke-width="0.18">HC + FDi</text>
<text x="214.54" y="607.9" font-size="6.8" text-anchor="end" fill="#3a3a3a" transform="rotate(-45 214.54 607.9)" stroke="#3a3a3a" stroke-width="0.18">HC + sut</text>
<text x="225.56" y="607.9" font-size="6.8" text-anchor="end" fill="#3a3a3a" transform="rotate(-45 225.56 607.9)" stroke="#3a3a3a" stroke-width="0.18">CM-TMA</text>
<text x="236.58" y="607.9" font-size="6.8" text-anchor="end" fill="#3a3a3a" transform="rotate(-45 236.58 607.9)" stroke="#3a3a3a" stroke-width="0.18">CM-TMA + FDi</text>
<text x="247.6" y="607.9" font-size="6.8" text-anchor="end" fill="#3a3a3a" transform="rotate(-45 247.6 607.9)" stroke="#3a3a3a" stroke-width="0.18">CM-TMA + sut</text>
<text x="153" y="560.4" font-size="8.6" text-anchor="middle" fill="#3a3a3a" transform="rotate(-90 153 560.4)" textLength="71.7" lengthAdjust="spacingAndGlyphs" stroke="#3a3a3a" stroke-width="0.18">C3c MFI on <tspan font-style="italic">CD46</tspan>KO cells</text>
<text x="0" y="0" font-size="10.6" font-weight="bold" fill="#111" transform="translate(276.4 180.4) scale(1.14 1)">F</text>
<text x="407.5" y="181" font-size="8.4" text-anchor="middle" fill="#333" stroke="#333" stroke-width="0.18">WT cells</text>
<g>
<path d="M325 270 C325.5 269.53 327 269.06 328 267.17 C329 265.28 330 262.91 331 258.66 C332 254.41 333.13 246 334 241.65 C334.87 237.3 335.62 234.47 336.2 232.58 C336.78 230.69 337.03 230.12 337.5 230.31 C337.97 230.5 338.33 232.14 339 233.71 C339.67 235.29 340.67 237.81 341.5 239.76 C342.33 241.71 343.17 243.79 344 245.43 C344.83 247.07 345.67 248.33 346.5 249.59 C347.33 250.85 348.17 251.95 349 252.99 C349.83 254.03 350.67 254.63 351.5 255.82 C352.33 257.02 353.17 258.75 354 260.17 C354.83 261.59 355.67 263.07 356.5 264.33 C357.33 265.59 358.08 266.79 359 267.73 C359.92 268.68 361.5 269.62 362 270 Z" fill="#f5d0a8" stroke="none" stroke-width="1" fill-opacity="0.4"/>
<path d="M327 270 C327.5 269.37 329 269.06 330 266.22 C331 263.39 332.08 257.72 333 252.99 C333.92 248.27 334.77 241.21 335.5 237.87 C336.23 234.53 336.82 233.33 337.4 232.96 C337.98 232.58 338.32 234.31 339 235.6 C339.68 236.89 340.67 239 341.5 240.71 C342.33 242.41 343.17 244.33 344 245.81 C344.83 247.29 345.75 248.55 346.5 249.59 C347.25 250.63 347.83 251.35 348.5 252.05 C349.17 252.74 349.83 252.96 350.5 253.75 C351.17 254.53 351.75 255.48 352.5 256.77 C353.25 258.06 354.17 259.98 355 261.5 C355.83 263.01 356.67 264.61 357.5 265.84 C358.33 267.07 359.17 268.17 360 268.87 C360.83 269.56 362.08 269.81 362.5 270 Z" fill="#9ea8e2" stroke="none" stroke-width="1" fill-opacity="0.65"/>
<path d="M320 270 C320.33 269.69 321.33 269.53 322 268.11 C322.67 266.69 323.37 265.27 324 261.5 C324.63 257.72 325.27 251.57 325.8 245.43 C326.33 239.29 326.77 230.78 327.2 224.64 C327.63 218.5 328.02 212.36 328.4 208.58 C328.78 204.8 329.13 203.31 329.5 201.96 C329.87 200.61 330.22 200.51 330.6 200.45 C330.98 200.38 331.42 200.54 331.8 201.58 C332.18 202.62 332.52 203.47 332.9 206.69 C333.28 209.9 333.68 215.51 334.1 220.86 C334.52 226.22 334.95 233.15 335.4 238.81 C335.85 244.48 336.32 250.56 336.8 254.88 C337.28 259.2 337.77 262.38 338.3 264.71 C338.83 267.04 339.38 267.98 340 268.87 C340.62 269.75 341.67 269.81 342 270 Z" fill="#b3acde" stroke="none" stroke-width="1" fill-opacity="0.5"/>
<path d="M319.5 270 C319.83 269.75 320.83 269.75 321.5 268.49 C322.17 267.23 322.87 265.97 323.5 262.44 C324.13 258.91 324.75 253.31 325.3 247.32 C325.85 241.33 326.35 232.83 326.8 226.53 C327.25 220.23 327.63 213.77 328 209.52 C328.37 205.27 328.63 202.78 329 201.02 C329.37 199.25 329.78 199.16 330.2 198.94 C330.62 198.72 331.12 198.87 331.5 199.69 C331.88 200.51 332.13 200.95 332.5 203.85 C332.87 206.75 333.28 211.73 333.7 217.08 C334.12 222.44 334.57 230.15 335 235.98 C335.43 241.81 335.83 247.48 336.3 252.05 C336.77 256.61 337.27 260.64 337.8 263.38 C338.33 266.13 338.88 267.39 339.5 268.49 C340.12 269.59 341.17 269.75 341.5 270 Z" fill="#f6b9a8" stroke="none" stroke-width="1" fill-opacity="0.8"/>
<path d="M325 270 C325.5 269.53 327 269.06 328 267.17 C329 265.28 330 262.91 331 258.66 C332 254.41 333.13 246 334 241.65 C334.87 237.3 335.62 234.47 336.2 232.58 C336.78 230.69 337.03 230.12 337.5 230.31 C337.97 230.5 338.33 232.14 339 233.71 C339.67 235.29 340.67 237.81 341.5 239.76 C342.33 241.71 343.17 243.79 344 245.43 C344.83 247.07 345.67 248.33 346.5 249.59 C347.33 250.85 348.17 251.95 349 252.99 C349.83 254.03 350.67 254.63 351.5 255.82 C352.33 257.02 353.17 258.75 354 260.17 C354.83 261.59 355.67 263.07 356.5 264.33 C357.33 265.59 358.08 266.79 359 267.73 C359.92 268.68 361.5 269.62 362 270" fill="none" stroke="#eba035" stroke-width="1.5" stroke-linejoin="round"/>
<path d="M327 270 C327.5 269.37 329 269.06 330 266.22 C331 263.39 332.08 257.72 333 252.99 C333.92 248.27 334.77 241.21 335.5 237.87 C336.23 234.53 336.82 233.33 337.4 232.96 C337.98 232.58 338.32 234.31 339 235.6 C339.68 236.89 340.67 239 341.5 240.71 C342.33 242.41 343.17 244.33 344 245.81 C344.83 247.29 345.75 248.55 346.5 249.59 C347.25 250.63 347.83 251.35 348.5 252.05 C349.17 252.74 349.83 252.96 350.5 253.75 C351.17 254.53 351.75 255.48 352.5 256.77 C353.25 258.06 354.17 259.98 355 261.5 C355.83 263.01 356.67 264.61 357.5 265.84 C358.33 267.07 359.17 268.17 360 268.87 C360.83 269.56 362.08 269.81 362.5 270" fill="none" stroke="#1d5a8c" stroke-width="1.5" stroke-linejoin="round"/>
<path d="M319.5 270 C319.83 269.75 320.83 269.75 321.5 268.49 C322.17 267.23 322.87 265.97 323.5 262.44 C324.13 258.91 324.75 253.31 325.3 247.32 C325.85 241.33 326.35 232.83 326.8 226.53 C327.25 220.23 327.63 213.77 328 209.52 C328.37 205.27 328.63 202.78 329 201.02 C329.37 199.25 329.78 199.16 330.2 198.94 C330.62 198.72 331.12 198.87 331.5 199.69 C331.88 200.51 332.13 200.95 332.5 203.85 C332.87 206.75 333.28 211.73 333.7 217.08 C334.12 222.44 334.57 230.15 335 235.98 C335.43 241.81 335.83 247.48 336.3 252.05 C336.77 256.61 337.27 260.64 337.8 263.38 C338.33 266.13 338.88 267.39 339.5 268.49 C340.12 269.59 341.17 269.75 341.5 270" fill="none" stroke="#bc163d" stroke-width="1.5" stroke-linejoin="round"/>
<path d="M320 270 C320.33 269.69 321.33 269.53 322 268.11 C322.67 266.69 323.37 265.27 324 261.5 C324.63 257.72 325.27 251.57 325.8 245.43 C326.33 239.29 326.77 230.78 327.2 224.64 C327.63 218.5 328.02 212.36 328.4 208.58 C328.78 204.8 329.13 203.31 329.5 201.96 C329.87 200.61 330.22 200.51 330.6 200.45 C330.98 200.38 331.42 200.54 331.8 201.58 C332.18 202.62 332.52 203.47 332.9 206.69 C333.28 209.9 333.68 215.51 334.1 220.86 C334.52 226.22 334.95 233.15 335.4 238.81 C335.85 244.48 336.32 250.56 336.8 254.88 C337.28 259.2 337.77 262.38 338.3 264.71 C338.83 267.04 339.38 267.98 340 268.87 C340.62 269.75 341.67 269.81 342 270" fill="none" stroke="#571f68" stroke-width="1.5" stroke-linejoin="round"/>
</g>
<rect x="312.5" y="191.5" width="79" height="78.5" fill="none" stroke="#111" stroke-width="1.3"/>
<line x1="310.7" y1="265.27" x2="312.5" y2="265.27" stroke="#222" stroke-width="0.8"/>
<line x1="310.7" y1="260.55" x2="312.5" y2="260.55" stroke="#222" stroke-width="0.8"/>
<line x1="310.7" y1="255.82" x2="312.5" y2="255.82" stroke="#222" stroke-width="0.8"/>
<line x1="310.7" y1="246.38" x2="312.5" y2="246.38" stroke="#222" stroke-width="0.8"/>
<line x1="310.7" y1="241.65" x2="312.5" y2="241.65" stroke="#222" stroke-width="0.8"/>
<line x1="310.7" y1="236.93" x2="312.5" y2="236.93" stroke="#222" stroke-width="0.8"/>
<line x1="310.7" y1="227.48" x2="312.5" y2="227.48" stroke="#222" stroke-width="0.8"/>
<line x1="310.7" y1="222.75" x2="312.5" y2="222.75" stroke="#222" stroke-width="0.8"/>
<line x1="310.7" y1="218.03" x2="312.5" y2="218.03" stroke="#222" stroke-width="0.8"/>
<line x1="310.7" y1="208.58" x2="312.5" y2="208.58" stroke="#222" stroke-width="0.8"/>
<line x1="310.7" y1="203.85" x2="312.5" y2="203.85" stroke="#222" stroke-width="0.8"/>
<line x1="310.7" y1="199.12" x2="312.5" y2="199.12" stroke="#222" stroke-width="0.8"/>
<line x1="309.1" y1="270" x2="312.5" y2="270" stroke="#111" stroke-width="0.9"/>
<text x="306.9" y="272.3" font-size="6.6" text-anchor="end" fill="#3a3a3a" stroke="#3a3a3a" stroke-width="0.18">0</text>
<line x1="309.1" y1="251.1" x2="312.5" y2="251.1" stroke="#111" stroke-width="0.9"/>
<text x="306.9" y="253.4" font-size="6.6" text-anchor="end" fill="#3a3a3a" stroke="#3a3a3a" stroke-width="0.18">100</text>
<line x1="309.1" y1="232.2" x2="312.5" y2="232.2" stroke="#111" stroke-width="0.9"/>
<text x="306.9" y="234.5" font-size="6.6" text-anchor="end" fill="#3a3a3a" stroke="#3a3a3a" stroke-width="0.18">200</text>
<line x1="309.1" y1="213.3" x2="312.5" y2="213.3" stroke="#111" stroke-width="0.9"/>
<text x="306.9" y="215.6" font-size="6.6" text-anchor="end" fill="#3a3a3a" stroke="#3a3a3a" stroke-width="0.18">300</text>
<line x1="309.1" y1="194.4" x2="312.5" y2="194.4" stroke="#111" stroke-width="0.9"/>
<text x="306.9" y="196.7" font-size="6.6" text-anchor="end" fill="#3a3a3a" stroke="#3a3a3a" stroke-width="0.18">400</text>
<line x1="316.5" y1="270" x2="316.5" y2="271.6" stroke="#111" stroke-width="0.7"/>
<line x1="320" y1="270" x2="320" y2="271.6" stroke="#111" stroke-width="0.7"/>
<line x1="322.5" y1="270" x2="322.5" y2="271.6" stroke="#111" stroke-width="0.7"/>
<line x1="328.5" y1="270" x2="328.5" y2="271.6" stroke="#111" stroke-width="0.7"/>
<line x1="331.5" y1="270" x2="331.5" y2="271.6" stroke="#111" stroke-width="0.7"/>
<line x1="335" y1="270" x2="335" y2="271.6" stroke="#111" stroke-width="0.7"/>
<line x1="339.5" y1="270" x2="339.5" y2="271.6" stroke="#111" stroke-width="0.7"/>
<line x1="343.5" y1="270" x2="343.5" y2="271.6" stroke="#111" stroke-width="0.7"/>
<line x1="346.5" y1="270" x2="346.5" y2="271.6" stroke="#111" stroke-width="0.7"/>
<line x1="354.06" y1="270" x2="354.06" y2="271.6" stroke="#111" stroke-width="0.7"/>
<line x1="356.44" y1="270" x2="356.44" y2="271.6" stroke="#111" stroke-width="0.7"/>
<line x1="358.13" y1="270" x2="358.13" y2="271.6" stroke="#111" stroke-width="0.7"/>
<line x1="359.44" y1="270" x2="359.44" y2="271.6" stroke="#111" stroke-width="0.7"/>
<line x1="360.51" y1="270" x2="360.51" y2="271.6" stroke="#111" stroke-width="0.7"/>
<line x1="361.41" y1="270" x2="361.41" y2="271.6" stroke="#111" stroke-width="0.7"/>
<line x1="362.19" y1="270" x2="362.19" y2="271.6" stroke="#111" stroke-width="0.7"/>
<line x1="362.88" y1="270" x2="362.88" y2="271.6" stroke="#111" stroke-width="0.7"/>
<line x1="367.35" y1="270" x2="367.35" y2="271.6" stroke="#111" stroke-width="0.7"/>
<line x1="369.61" y1="270" x2="369.61" y2="271.6" stroke="#111" stroke-width="0.7"/>
<line x1="371.21" y1="270" x2="371.21" y2="271.6" stroke="#111" stroke-width="0.7"/>
<line x1="372.45" y1="270" x2="372.45" y2="271.6" stroke="#111" stroke-width="0.7"/>
<line x1="373.46" y1="270" x2="373.46" y2="271.6" stroke="#111" stroke-width="0.7"/>
<line x1="374.32" y1="270" x2="374.32" y2="271.6" stroke="#111" stroke-width="0.7"/>
<line x1="375.06" y1="270" x2="375.06" y2="271.6" stroke="#111" stroke-width="0.7"/>
<line x1="375.71" y1="270" x2="375.71" y2="271.6" stroke="#111" stroke-width="0.7"/>
<line x1="379.76" y1="270" x2="379.76" y2="271.6" stroke="#111" stroke-width="0.7"/>
<line x1="381.79" y1="270" x2="381.79" y2="271.6" stroke="#111" stroke-width="0.7"/>
<line x1="383.22" y1="270" x2="383.22" y2="271.6" stroke="#111" stroke-width="0.7"/>
<line x1="384.34" y1="270" x2="384.34" y2="271.6" stroke="#111" stroke-width="0.7"/>
<line x1="385.25" y1="270" x2="385.25" y2="271.6" stroke="#111" stroke-width="0.7"/>
<line x1="386.02" y1="270" x2="386.02" y2="271.6" stroke="#111" stroke-width="0.7"/>
<line x1="386.69" y1="270" x2="386.69" y2="271.6" stroke="#111" stroke-width="0.7"/>
<line x1="387.27" y1="270" x2="387.27" y2="271.6" stroke="#111" stroke-width="0.7"/>
<line x1="325.5" y1="270" x2="325.5" y2="272.6" stroke="#111" stroke-width="0.9"/>
<line x1="350" y1="270" x2="350" y2="272.6" stroke="#111" stroke-width="0.9"/>
<line x1="363.5" y1="270" x2="363.5" y2="272.6" stroke="#111" stroke-width="0.9"/>
<line x1="376.3" y1="270" x2="376.3" y2="272.6" stroke="#111" stroke-width="0.9"/>
<line x1="387.8" y1="270" x2="387.8" y2="272.6" stroke="#111" stroke-width="0.9"/>
<text x="325.5" y="281.9" font-size="6.6" text-anchor="middle" fill="#3a3a3a" stroke="#3a3a3a" stroke-width="0.18">0</text>
<text x="350.6" y="281.9" font-size="6.6" text-anchor="middle" fill="#3a3a3a" stroke="#3a3a3a" stroke-width="0.18">10<tspan font-size="4.4" dy="-2.6">4</tspan></text>
<text x="364.1" y="281.9" font-size="6.6" text-anchor="middle" fill="#3a3a3a" stroke="#3a3a3a" stroke-width="0.18">10<tspan font-size="4.4" dy="-2.6">5</tspan></text>
<text x="376.9" y="281.9" font-size="6.6" text-anchor="middle" fill="#3a3a3a" stroke="#3a3a3a" stroke-width="0.18">10<tspan font-size="4.4" dy="-2.6">6</tspan></text>
<text x="388.4" y="281.9" font-size="6.6" text-anchor="middle" fill="#3a3a3a" stroke="#3a3a3a" stroke-width="0.18">10<tspan font-size="4.4" dy="-2.6">7</tspan></text>
<line x1="313.5" y1="286.3" x2="388.5" y2="286.3" stroke="#111" stroke-width="1"/>
<path d="M386.5 284.2 L392 286.3 L386.5 288.4 Z" fill="#111" stroke="none" stroke-width="1"/>
<text x="352.3" y="296.9" font-size="8.6" text-anchor="middle" fill="#3a3a3a" textLength="11.8" lengthAdjust="spacingAndGlyphs" stroke="#3a3a3a" stroke-width="0.18">C4d</text>
<text x="290.9" y="230.75" font-size="9.2" text-anchor="middle" fill="#3a3a3a" transform="rotate(-90 290.9 230.75)" textLength="18.8" lengthAdjust="spacingAndGlyphs" stroke="#3a3a3a" stroke-width="0.18">Count</text>
<g>
<path d="M444 270 C444.83 269.74 447.42 269.4 449 268.45 C450.58 267.5 452.08 266 453.5 264.32 C454.92 262.64 456.25 260.87 457.5 258.38 C458.75 255.88 459.83 252.78 461 249.33 C462.17 245.89 463.42 241.37 464.5 237.71 C465.58 234.05 466.58 230.09 467.5 227.38 C468.42 224.66 469.33 222.6 470 221.43 C470.67 220.27 470.97 220.14 471.5 220.4 C472.03 220.66 472.53 221.39 473.2 222.98 C473.87 224.58 474.62 226.86 475.5 229.96 C476.38 233.06 477.5 237.71 478.5 241.58 C479.5 245.46 480.5 249.85 481.5 253.21 C482.5 256.57 483.5 259.45 484.5 261.73 C485.5 264.02 486.42 265.65 487.5 266.9 C488.58 268.15 489.92 268.71 491 269.23 C492.08 269.74 493.5 269.87 494 270 Z" fill="#f5d0a8" stroke="none" stroke-width="1" fill-opacity="0.4"/>
<path d="M457.5 270 C458.08 269.35 459.92 268.49 461 266.12 C462.08 263.76 463 260.31 464 255.79 C465 251.27 466.03 244.3 467 239 C467.97 233.7 469 227.46 469.8 224.02 C470.6 220.57 471.23 219.11 471.8 218.33 C472.37 217.56 472.67 218.16 473.2 219.37 C473.73 220.57 474.28 222.72 475 225.57 C475.72 228.41 476.58 232.46 477.5 236.42 C478.42 240.38 479.5 245.54 480.5 249.33 C481.5 253.12 482.5 256.48 483.5 259.15 C484.5 261.82 485.42 263.76 486.5 265.35 C487.58 266.94 488.92 267.93 490 268.71 C491.08 269.48 492.5 269.78 493 270 Z" fill="#9ea8e2" stroke="none" stroke-width="1" fill-opacity="0.65"/>
<path d="M441 270 C441.5 269.4 443.12 269.4 444 266.38 C444.88 263.37 445.58 258.2 446.3 251.92 C447.02 245.63 447.65 235.21 448.3 228.67 C448.95 222.12 449.65 215.75 450.2 212.65 C450.75 209.55 451.13 210.67 451.6 210.07 C452.07 209.46 452.53 208.43 453 209.03 C453.47 209.64 453.9 210.41 454.4 213.68 C454.9 216.96 455.43 223.37 456 228.67 C456.57 233.96 457.13 240.81 457.8 245.46 C458.47 250.11 459.22 253.94 460 256.57 C460.78 259.19 461.58 260.18 462.5 261.22 C463.42 262.25 464.5 262.38 465.5 262.77 C466.5 263.15 467.58 263.07 468.5 263.54 C469.42 264.02 470.08 264.96 471 265.61 C471.92 266.25 472.83 266.9 474 267.42 C475.17 267.93 476.5 268.32 478 268.71 C479.5 269.1 481.67 269.53 483 269.74 C484.33 269.96 485.5 269.96 486 270 Z" fill="#b3acde" stroke="none" stroke-width="1" fill-opacity="0.5"/>
<path d="M440.5 270 C441 269.23 442.62 268.58 443.5 265.35 C444.38 262.12 445.08 256.95 445.8 250.62 C446.52 244.3 447.15 234.69 447.8 227.38 C448.45 220.06 449.13 211.92 449.7 206.71 C450.27 201.5 450.77 197.97 451.2 196.12 C451.63 194.27 451.9 194.05 452.3 195.6 C452.7 197.15 453.1 200.77 453.6 205.42 C454.1 210.07 454.7 217.04 455.3 223.5 C455.9 229.96 456.55 238.14 457.2 244.17 C457.85 250.19 458.52 255.79 459.2 259.67 C459.88 263.54 460.58 265.69 461.3 267.42 C462.02 269.14 463.13 269.57 463.5 270 Z" fill="#f6b9a8" stroke="none" stroke-width="1" fill-opacity="0.8"/>
<path d="M444 270 C444.83 269.74 447.42 269.4 449 268.45 C450.58 267.5 452.08 266 453.5 264.32 C454.92 262.64 456.25 260.87 457.5 258.38 C458.75 255.88 459.83 252.78 461 249.33 C462.17 245.89 463.42 241.37 464.5 237.71 C465.58 234.05 466.58 230.09 467.5 227.38 C468.42 224.66 469.33 222.6 470 221.43 C470.67 220.27 470.97 220.14 471.5 220.4 C472.03 220.66 472.53 221.39 473.2 222.98 C473.87 224.58 474.62 226.86 475.5 229.96 C476.38 233.06 477.5 237.71 478.5 241.58 C479.5 245.46 480.5 249.85 481.5 253.21 C482.5 256.57 483.5 259.45 484.5 261.73 C485.5 264.02 486.42 265.65 487.5 266.9 C488.58 268.15 489.92 268.71 491 269.23 C492.08 269.74 493.5 269.87 494 270" fill="none" stroke="#eba035" stroke-width="1.5" stroke-linejoin="round"/>
<path d="M457.5 270 C458.08 269.35 459.92 268.49 461 266.12 C462.08 263.76 463 260.31 464 255.79 C465 251.27 466.03 244.3 467 239 C467.97 233.7 469 227.46 469.8 224.02 C470.6 220.57 471.23 219.11 471.8 218.33 C472.37 217.56 472.67 218.16 473.2 219.37 C473.73 220.57 474.28 222.72 475 225.57 C475.72 228.41 476.58 232.46 477.5 236.42 C478.42 240.38 479.5 245.54 480.5 249.33 C481.5 253.12 482.5 256.48 483.5 259.15 C484.5 261.82 485.42 263.76 486.5 265.35 C487.58 266.94 488.92 267.93 490 268.71 C491.08 269.48 492.5 269.78 493 270" fill="none" stroke="#1d5a8c" stroke-width="1.5" stroke-linejoin="round"/>
<path d="M440.5 270 C441 269.23 442.62 268.58 443.5 265.35 C444.38 262.12 445.08 256.95 445.8 250.62 C446.52 244.3 447.15 234.69 447.8 227.38 C448.45 220.06 449.13 211.92 449.7 206.71 C450.27 201.5 450.77 197.97 451.2 196.12 C451.63 194.27 451.9 194.05 452.3 195.6 C452.7 197.15 453.1 200.77 453.6 205.42 C454.1 210.07 454.7 217.04 455.3 223.5 C455.9 229.96 456.55 238.14 457.2 244.17 C457.85 250.19 458.52 255.79 459.2 259.67 C459.88 263.54 460.58 265.69 461.3 267.42 C462.02 269.14 463.13 269.57 463.5 270" fill="none" stroke="#bc163d" stroke-width="1.5" stroke-linejoin="round"/>
<path d="M441 270 C441.5 269.4 443.12 269.4 444 266.38 C444.88 263.37 445.58 258.2 446.3 251.92 C447.02 245.63 447.65 235.21 448.3 228.67 C448.95 222.12 449.65 215.75 450.2 212.65 C450.75 209.55 451.13 210.67 451.6 210.07 C452.07 209.46 452.53 208.43 453 209.03 C453.47 209.64 453.9 210.41 454.4 213.68 C454.9 216.96 455.43 223.37 456 228.67 C456.57 233.96 457.13 240.81 457.8 245.46 C458.47 250.11 459.22 253.94 460 256.57 C460.78 259.19 461.58 260.18 462.5 261.22 C463.42 262.25 464.5 262.38 465.5 262.77 C466.5 263.15 467.58 263.07 468.5 263.54 C469.42 264.02 470.08 264.96 471 265.61 C471.92 266.25 472.83 266.9 474 267.42 C475.17 267.93 476.5 268.32 478 268.71 C479.5 269.1 481.67 269.53 483 269.74 C484.33 269.96 485.5 269.96 486 270" fill="none" stroke="#571f68" stroke-width="1.5" stroke-linejoin="round"/>
</g>
<rect x="432.2" y="191.4" width="79.1" height="78.6" fill="none" stroke="#111" stroke-width="1.3"/>
<line x1="430.4" y1="263.54" x2="432.2" y2="263.54" stroke="#222" stroke-width="0.8"/>
<line x1="430.4" y1="257.08" x2="432.2" y2="257.08" stroke="#222" stroke-width="0.8"/>
<line x1="430.4" y1="250.62" x2="432.2" y2="250.62" stroke="#222" stroke-width="0.8"/>
<line x1="430.4" y1="237.71" x2="432.2" y2="237.71" stroke="#222" stroke-width="0.8"/>
<line x1="430.4" y1="231.25" x2="432.2" y2="231.25" stroke="#222" stroke-width="0.8"/>
<line x1="430.4" y1="224.79" x2="432.2" y2="224.79" stroke="#222" stroke-width="0.8"/>
<line x1="430.4" y1="211.88" x2="432.2" y2="211.88" stroke="#222" stroke-width="0.8"/>
<line x1="430.4" y1="205.42" x2="432.2" y2="205.42" stroke="#222" stroke-width="0.8"/>
<line x1="430.4" y1="198.96" x2="432.2" y2="198.96" stroke="#222" stroke-width="0.8"/>
<line x1="428.8" y1="270" x2="432.2" y2="270" stroke="#111" stroke-width="0.9"/>
<text x="426.6" y="272.3" font-size="6.6" text-anchor="end" fill="#3a3a3a" stroke="#3a3a3a" stroke-width="0.18">0</text>
<line x1="428.8" y1="244.17" x2="432.2" y2="244.17" stroke="#111" stroke-width="0.9"/>
<text x="426.6" y="246.47" font-size="6.6" text-anchor="end" fill="#3a3a3a" stroke="#3a3a3a" stroke-width="0.18">100</text>
<line x1="428.8" y1="218.33" x2="432.2" y2="218.33" stroke="#111" stroke-width="0.9"/>
<text x="426.6" y="220.63" font-size="6.6" text-anchor="end" fill="#3a3a3a" stroke="#3a3a3a" stroke-width="0.18">200</text>
<line x1="428.8" y1="192.5" x2="432.2" y2="192.5" stroke="#111" stroke-width="0.9"/>
<text x="426.6" y="194.8" font-size="6.6" text-anchor="end" fill="#3a3a3a" stroke="#3a3a3a" stroke-width="0.18">300</text>
<line x1="436.2" y1="270" x2="436.2" y2="271.6" stroke="#111" stroke-width="0.7"/>
<line x1="439.7" y1="270" x2="439.7" y2="271.6" stroke="#111" stroke-width="0.7"/>
<line x1="442.2" y1="270" x2="442.2" y2="271.6" stroke="#111" stroke-width="0.7"/>
<line x1="448.2" y1="270" x2="448.2" y2="271.6" stroke="#111" stroke-width="0.7"/>
<line x1="451.2" y1="270" x2="451.2" y2="271.6" stroke="#111" stroke-width="0.7"/>
<line x1="454.7" y1="270" x2="454.7" y2="271.6" stroke="#111" stroke-width="0.7"/>
<line x1="459.2" y1="270" x2="459.2" y2="271.6" stroke="#111" stroke-width="0.7"/>
<line x1="463.2" y1="270" x2="463.2" y2="271.6" stroke="#111" stroke-width="0.7"/>
<line x1="466.2" y1="270" x2="466.2" y2="271.6" stroke="#111" stroke-width="0.7"/>
<line x1="473.76" y1="270" x2="473.76" y2="271.6" stroke="#111" stroke-width="0.7"/>
<line x1="476.14" y1="270" x2="476.14" y2="271.6" stroke="#111" stroke-width="0.7"/>
<line x1="477.83" y1="270" x2="477.83" y2="271.6" stroke="#111" stroke-width="0.7"/>
<line x1="479.14" y1="270" x2="479.14" y2="271.6" stroke="#111" stroke-width="0.7"/>
<line x1="480.21" y1="270" x2="480.21" y2="271.6" stroke="#111" stroke-width="0.7"/>
<line x1="481.11" y1="270" x2="481.11" y2="271.6" stroke="#111" stroke-width="0.7"/>
<line x1="481.89" y1="270" x2="481.89" y2="271.6" stroke="#111" stroke-width="0.7"/>
<line x1="482.58" y1="270" x2="482.58" y2="271.6" stroke="#111" stroke-width="0.7"/>
<line x1="487.05" y1="270" x2="487.05" y2="271.6" stroke="#111" stroke-width="0.7"/>
<line x1="489.31" y1="270" x2="489.31" y2="271.6" stroke="#111" stroke-width="0.7"/>
<line x1="490.91" y1="270" x2="490.91" y2="271.6" stroke="#111" stroke-width="0.7"/>
<line x1="492.15" y1="270" x2="492.15" y2="271.6" stroke="#111" stroke-width="0.7"/>
<line x1="493.16" y1="270" x2="493.16" y2="271.6" stroke="#111" stroke-width="0.7"/>
<line x1="494.02" y1="270" x2="494.02" y2="271.6" stroke="#111" stroke-width="0.7"/>
<line x1="494.76" y1="270" x2="494.76" y2="271.6" stroke="#111" stroke-width="0.7"/>
<line x1="495.41" y1="270" x2="495.41" y2="271.6" stroke="#111" stroke-width="0.7"/>
<line x1="499.46" y1="270" x2="499.46" y2="271.6" stroke="#111" stroke-width="0.7"/>
<line x1="501.49" y1="270" x2="501.49" y2="271.6" stroke="#111" stroke-width="0.7"/>
<line x1="502.92" y1="270" x2="502.92" y2="271.6" stroke="#111" stroke-width="0.7"/>
<line x1="504.04" y1="270" x2="504.04" y2="271.6" stroke="#111" stroke-width="0.7"/>
<line x1="504.95" y1="270" x2="504.95" y2="271.6" stroke="#111" stroke-width="0.7"/>
<line x1="505.72" y1="270" x2="505.72" y2="271.6" stroke="#111" stroke-width="0.7"/>
<line x1="506.39" y1="270" x2="506.39" y2="271.6" stroke="#111" stroke-width="0.7"/>
<line x1="506.97" y1="270" x2="506.97" y2="271.6" stroke="#111" stroke-width="0.7"/>
<line x1="445.2" y1="270" x2="445.2" y2="272.6" stroke="#111" stroke-width="0.9"/>
<line x1="469.7" y1="270" x2="469.7" y2="272.6" stroke="#111" stroke-width="0.9"/>
<line x1="483.2" y1="270" x2="483.2" y2="272.6" stroke="#111" stroke-width="0.9"/>
<line x1="496" y1="270" x2="496" y2="272.6" stroke="#111" stroke-width="0.9"/>
<line x1="507.5" y1="270" x2="507.5" y2="272.6" stroke="#111" stroke-width="0.9"/>
<text x="445.2" y="281.9" font-size="6.6" text-anchor="middle" fill="#3a3a3a" stroke="#3a3a3a" stroke-width="0.18">0</text>
<text x="470.3" y="281.9" font-size="6.6" text-anchor="middle" fill="#3a3a3a" stroke="#3a3a3a" stroke-width="0.18">10<tspan font-size="4.4" dy="-2.6">4</tspan></text>
<text x="483.8" y="281.9" font-size="6.6" text-anchor="middle" fill="#3a3a3a" stroke="#3a3a3a" stroke-width="0.18">10<tspan font-size="4.4" dy="-2.6">5</tspan></text>
<text x="496.6" y="281.9" font-size="6.6" text-anchor="middle" fill="#3a3a3a" stroke="#3a3a3a" stroke-width="0.18">10<tspan font-size="4.4" dy="-2.6">6</tspan></text>
<text x="508.1" y="281.9" font-size="6.6" text-anchor="middle" fill="#3a3a3a" stroke="#3a3a3a" stroke-width="0.18">10<tspan font-size="4.4" dy="-2.6">7</tspan></text>
<line x1="433.2" y1="286.3" x2="508.3" y2="286.3" stroke="#111" stroke-width="1"/>
<path d="M506.3 284.2 L511.8 286.3 L506.3 288.4 Z" fill="#111" stroke="none" stroke-width="1"/>
<text x="472" y="296.9" font-size="8.6" text-anchor="middle" fill="#3a3a3a" textLength="11.8" lengthAdjust="spacingAndGlyphs" stroke="#3a3a3a" stroke-width="0.18">C3c</text>
<text x="410.6" y="230.7" font-size="9.2" text-anchor="middle" fill="#3a3a3a" transform="rotate(-90 410.6 230.7)" textLength="18.8" lengthAdjust="spacingAndGlyphs" stroke="#3a3a3a" stroke-width="0.18">Count</text>
<rect x="348.8" y="306.3" width="5.9" height="5.9" fill="#1d5a8c"/>
<rect x="348.8" y="316.3" width="5.9" height="5.9" fill="#bc163d"/>
<rect x="393.3" y="306.3" width="5.9" height="5.9" fill="#571f68"/>
<rect x="393.3" y="316.3" width="5.9" height="5.9" fill="#eba035"/>
<text x="358.6" y="311.5" font-size="6.8" text-anchor="start" fill="#3a3a3a" textLength="16.3" lengthAdjust="spacingAndGlyphs" stroke="#3a3a3a" stroke-width="0.18">CM07</text>
<text x="358.6" y="321.4" font-size="6.8" text-anchor="start" fill="#3a3a3a" textLength="25" lengthAdjust="spacingAndGlyphs" stroke="#3a3a3a" stroke-width="0.18">HI CM07</text>
<text x="402.5" y="311.5" font-size="6.8" text-anchor="start" fill="#3a3a3a" textLength="63.8" lengthAdjust="spacingAndGlyphs" stroke="#3a3a3a" stroke-width="0.18">CM07 + 30 µg/mL sut</text>
<text x="402.5" y="321.4" font-size="6.8" text-anchor="start" fill="#3a3a3a" textLength="52" lengthAdjust="spacingAndGlyphs" stroke="#3a3a3a" stroke-width="0.18">CM07 + 1 µM FDi</text>
<text x="0" y="0" font-size="10.6" font-weight="bold" fill="#111" transform="translate(278 347.6) scale(1.14 1)">I</text>
<text x="408" y="348.5" font-size="8.4" text-anchor="middle" fill="#333" stroke="#333" stroke-width="0.18"><tspan font-style="italic">PIGA</tspan>KO</text>
<g>
<path d="M325 435.5 C325.5 434.83 327 433.83 328 431.5 C329 429.17 330.08 425.17 331 421.5 C331.92 417.83 332.75 412.83 333.5 409.5 C334.25 406.17 334.92 403.43 335.5 401.5 C336.08 399.57 336.42 398.3 337 397.9 C337.58 397.5 338.42 399.17 339 399.1 C339.58 399.03 340 397.27 340.5 397.5 C341 397.73 341.42 398.83 342 400.5 C342.58 402.17 343.25 405 344 407.5 C344.75 410 345.67 412.67 346.5 415.5 C347.33 418.33 348.17 422 349 424.5 C349.83 427 350.67 428.93 351.5 430.5 C352.33 432.07 353.08 433.07 354 433.9 C354.92 434.73 356.5 435.23 357 435.5 Z" fill="#f5d0a8" stroke="none" stroke-width="1" fill-opacity="0.4"/>
<path d="M327 435.5 C327.5 434.83 329.08 433.83 330 431.5 C330.92 429.17 331.75 425 332.5 421.5 C333.25 418 333.83 413.27 334.5 410.5 C335.17 407.73 335.83 405.57 336.5 404.9 C337.17 404.23 337.75 405.73 338.5 406.5 C339.25 407.27 340.08 408.6 341 409.5 C341.92 410.4 343.08 410.73 344 411.9 C344.92 413.07 345.67 414.73 346.5 416.5 C347.33 418.27 348.17 420.5 349 422.5 C349.83 424.5 350.75 426.73 351.5 428.5 C352.25 430.27 352.83 431.93 353.5 433.1 C354.17 434.27 355.17 435.1 355.5 435.5 Z" fill="#9ea8e2" stroke="none" stroke-width="1" fill-opacity="0.65"/>
<path d="M323 435.5 C323.42 435 324.67 435.17 325.5 432.5 C326.33 429.83 327.25 425.17 328 419.5 C328.75 413.83 329.43 405.33 330 398.5 C330.57 391.67 330.97 383.83 331.4 378.5 C331.83 373.17 332.2 366.5 332.6 366.5 C333 366.5 333.35 373.17 333.8 378.5 C334.25 383.83 334.8 392.5 335.3 398.5 C335.8 404.5 336.3 409.83 336.8 414.5 C337.3 419.17 337.72 423.33 338.3 426.5 C338.88 429.67 339.63 432 340.3 433.5 C340.97 435 341.97 435.17 342.3 435.5 Z" fill="#b3acde" stroke="none" stroke-width="1" fill-opacity="0.5"/>
<path d="M322.5 435.5 C322.92 435 324.17 435.17 325 432.5 C325.83 429.83 326.75 425 327.5 419.5 C328.25 414 328.92 406.17 329.5 399.5 C330.08 392.83 330.53 385.1 331 379.5 C331.47 373.9 331.88 366.23 332.3 365.9 C332.72 365.57 333.05 372.23 333.5 377.5 C333.95 382.77 334.5 391.5 335 397.5 C335.5 403.5 336 408.83 336.5 413.5 C337 418.17 337.42 422.23 338 425.5 C338.58 428.77 339.33 431.43 340 433.1 C340.67 434.77 341.67 435.1 342 435.5 Z" fill="#f6b9a8" stroke="none" stroke-width="1" fill-opacity="0.8"/>
<path d="M325 435.5 C325.5 434.83 327 433.83 328 431.5 C329 429.17 330.08 425.17 331 421.5 C331.92 417.83 332.75 412.83 333.5 409.5 C334.25 406.17 334.92 403.43 335.5 401.5 C336.08 399.57 336.42 398.3 337 397.9 C337.58 397.5 338.42 399.17 339 399.1 C339.58 399.03 340 397.27 340.5 397.5 C341 397.73 341.42 398.83 342 400.5 C342.58 402.17 343.25 405 344 407.5 C344.75 410 345.67 412.67 346.5 415.5 C347.33 418.33 348.17 422 349 424.5 C349.83 427 350.67 428.93 351.5 430.5 C352.33 432.07 353.08 433.07 354 433.9 C354.92 434.73 356.5 435.23 357 435.5" fill="none" stroke="#eba035" stroke-width="1.5" stroke-linejoin="round"/>
<path d="M327 435.5 C327.5 434.83 329.08 433.83 330 431.5 C330.92 429.17 331.75 425 332.5 421.5 C333.25 418 333.83 413.27 334.5 410.5 C335.17 407.73 335.83 405.57 336.5 404.9 C337.17 404.23 337.75 405.73 338.5 406.5 C339.25 407.27 340.08 408.6 341 409.5 C341.92 410.4 343.08 410.73 344 411.9 C344.92 413.07 345.67 414.73 346.5 416.5 C347.33 418.27 348.17 420.5 349 422.5 C349.83 424.5 350.75 426.73 351.5 428.5 C352.25 430.27 352.83 431.93 353.5 433.1 C354.17 434.27 355.17 435.1 355.5 435.5" fill="none" stroke="#1d5a8c" stroke-width="1.5" stroke-linejoin="round"/>
<path d="M322.5 435.5 C322.92 435 324.17 435.17 325 432.5 C325.83 429.83 326.75 425 327.5 419.5 C328.25 414 328.92 406.17 329.5 399.5 C330.08 392.83 330.53 385.1 331 379.5 C331.47 373.9 331.88 366.23 332.3 365.9 C332.72 365.57 333.05 372.23 333.5 377.5 C333.95 382.77 334.5 391.5 335 397.5 C335.5 403.5 336 408.83 336.5 413.5 C337 418.17 337.42 422.23 338 425.5 C338.58 428.77 339.33 431.43 340 433.1 C340.67 434.77 341.67 435.1 342 435.5" fill="none" stroke="#bc163d" stroke-width="1.5" stroke-linejoin="round"/>
<path d="M323 435.5 C323.42 435 324.67 435.17 325.5 432.5 C326.33 429.83 327.25 425.17 328 419.5 C328.75 413.83 329.43 405.33 330 398.5 C330.57 391.67 330.97 383.83 331.4 378.5 C331.83 373.17 332.2 366.5 332.6 366.5 C333 366.5 333.35 373.17 333.8 378.5 C334.25 383.83 334.8 392.5 335.3 398.5 C335.8 404.5 336.3 409.83 336.8 414.5 C337.3 419.17 337.72 423.33 338.3 426.5 C338.88 429.67 339.63 432 340.3 433.5 C340.97 435 341.97 435.17 342.3 435.5" fill="none" stroke="#571f68" stroke-width="1.5" stroke-linejoin="round"/>
</g>
<rect x="312.6" y="356.8" width="78.9" height="78.7" fill="none" stroke="#111" stroke-width="1.3"/>
<line x1="310.8" y1="430.5" x2="312.6" y2="430.5" stroke="#222" stroke-width="0.8"/>
<line x1="310.8" y1="425.5" x2="312.6" y2="425.5" stroke="#222" stroke-width="0.8"/>
<line x1="310.8" y1="420.5" x2="312.6" y2="420.5" stroke="#222" stroke-width="0.8"/>
<line x1="310.8" y1="410.5" x2="312.6" y2="410.5" stroke="#222" stroke-width="0.8"/>
<line x1="310.8" y1="405.5" x2="312.6" y2="405.5" stroke="#222" stroke-width="0.8"/>
<line x1="310.8" y1="400.5" x2="312.6" y2="400.5" stroke="#222" stroke-width="0.8"/>
<line x1="310.8" y1="390.5" x2="312.6" y2="390.5" stroke="#222" stroke-width="0.8"/>
<line x1="310.8" y1="385.5" x2="312.6" y2="385.5" stroke="#222" stroke-width="0.8"/>
<line x1="310.8" y1="380.5" x2="312.6" y2="380.5" stroke="#222" stroke-width="0.8"/>
<line x1="310.8" y1="370.5" x2="312.6" y2="370.5" stroke="#222" stroke-width="0.8"/>
<line x1="310.8" y1="365.5" x2="312.6" y2="365.5" stroke="#222" stroke-width="0.8"/>
<line x1="310.8" y1="360.5" x2="312.6" y2="360.5" stroke="#222" stroke-width="0.8"/>
<line x1="309.2" y1="435.5" x2="312.6" y2="435.5" stroke="#111" stroke-width="0.9"/>
<text x="307" y="437.8" font-size="6.6" text-anchor="end" fill="#3a3a3a" stroke="#3a3a3a" stroke-width="0.18">0</text>
<line x1="309.2" y1="415.5" x2="312.6" y2="415.5" stroke="#111" stroke-width="0.9"/>
<text x="307" y="417.8" font-size="6.6" text-anchor="end" fill="#3a3a3a" stroke="#3a3a3a" stroke-width="0.18">100</text>
<line x1="309.2" y1="395.5" x2="312.6" y2="395.5" stroke="#111" stroke-width="0.9"/>
<text x="307" y="397.8" font-size="6.6" text-anchor="end" fill="#3a3a3a" stroke="#3a3a3a" stroke-width="0.18">200</text>
<line x1="309.2" y1="375.5" x2="312.6" y2="375.5" stroke="#111" stroke-width="0.9"/>
<text x="307" y="377.8" font-size="6.6" text-anchor="end" fill="#3a3a3a" stroke="#3a3a3a" stroke-width="0.18">300</text>
<line x1="316.6" y1="435.5" x2="316.6" y2="437.1" stroke="#111" stroke-width="0.7"/>
<line x1="320.1" y1="435.5" x2="320.1" y2="437.1" stroke="#111" stroke-width="0.7"/>
<line x1="322.6" y1="435.5" x2="322.6" y2="437.1" stroke="#111" stroke-width="0.7"/>
<line x1="328.6" y1="435.5" x2="328.6" y2="437.1" stroke="#111" stroke-width="0.7"/>
<line x1="331.6" y1="435.5" x2="331.6" y2="437.1" stroke="#111" stroke-width="0.7"/>
<line x1="335.1" y1="435.5" x2="335.1" y2="437.1" stroke="#111" stroke-width="0.7"/>
<line x1="339.6" y1="435.5" x2="339.6" y2="437.1" stroke="#111" stroke-width="0.7"/>
<line x1="343.6" y1="435.5" x2="343.6" y2="437.1" stroke="#111" stroke-width="0.7"/>
<line x1="346.6" y1="435.5" x2="346.6" y2="437.1" stroke="#111" stroke-width="0.7"/>
<line x1="354.16" y1="435.5" x2="354.16" y2="437.1" stroke="#111" stroke-width="0.7"/>
<line x1="356.54" y1="435.5" x2="356.54" y2="437.1" stroke="#111" stroke-width="0.7"/>
<line x1="358.23" y1="435.5" x2="358.23" y2="437.1" stroke="#111" stroke-width="0.7"/>
<line x1="359.54" y1="435.5" x2="359.54" y2="437.1" stroke="#111" stroke-width="0.7"/>
<line x1="360.61" y1="435.5" x2="360.61" y2="437.1" stroke="#111" stroke-width="0.7"/>
<line x1="361.51" y1="435.5" x2="361.51" y2="437.1" stroke="#111" stroke-width="0.7"/>
<line x1="362.29" y1="435.5" x2="362.29" y2="437.1" stroke="#111" stroke-width="0.7"/>
<line x1="362.98" y1="435.5" x2="362.98" y2="437.1" stroke="#111" stroke-width="0.7"/>
<line x1="367.45" y1="435.5" x2="367.45" y2="437.1" stroke="#111" stroke-width="0.7"/>
<line x1="369.71" y1="435.5" x2="369.71" y2="437.1" stroke="#111" stroke-width="0.7"/>
<line x1="371.31" y1="435.5" x2="371.31" y2="437.1" stroke="#111" stroke-width="0.7"/>
<line x1="372.55" y1="435.5" x2="372.55" y2="437.1" stroke="#111" stroke-width="0.7"/>
<line x1="373.56" y1="435.5" x2="373.56" y2="437.1" stroke="#111" stroke-width="0.7"/>
<line x1="374.42" y1="435.5" x2="374.42" y2="437.1" stroke="#111" stroke-width="0.7"/>
<line x1="375.16" y1="435.5" x2="375.16" y2="437.1" stroke="#111" stroke-width="0.7"/>
<line x1="375.81" y1="435.5" x2="375.81" y2="437.1" stroke="#111" stroke-width="0.7"/>
<line x1="379.86" y1="435.5" x2="379.86" y2="437.1" stroke="#111" stroke-width="0.7"/>
<line x1="381.89" y1="435.5" x2="381.89" y2="437.1" stroke="#111" stroke-width="0.7"/>
<line x1="383.32" y1="435.5" x2="383.32" y2="437.1" stroke="#111" stroke-width="0.7"/>
<line x1="384.44" y1="435.5" x2="384.44" y2="437.1" stroke="#111" stroke-width="0.7"/>
<line x1="385.35" y1="435.5" x2="385.35" y2="437.1" stroke="#111" stroke-width="0.7"/>
<line x1="386.12" y1="435.5" x2="386.12" y2="437.1" stroke="#111" stroke-width="0.7"/>
<line x1="386.79" y1="435.5" x2="386.79" y2="437.1" stroke="#111" stroke-width="0.7"/>
<line x1="387.37" y1="435.5" x2="387.37" y2="437.1" stroke="#111" stroke-width="0.7"/>
<line x1="325.6" y1="435.5" x2="325.6" y2="438.1" stroke="#111" stroke-width="0.9"/>
<line x1="350.1" y1="435.5" x2="350.1" y2="438.1" stroke="#111" stroke-width="0.9"/>
<line x1="363.6" y1="435.5" x2="363.6" y2="438.1" stroke="#111" stroke-width="0.9"/>
<line x1="376.4" y1="435.5" x2="376.4" y2="438.1" stroke="#111" stroke-width="0.9"/>
<line x1="387.9" y1="435.5" x2="387.9" y2="438.1" stroke="#111" stroke-width="0.9"/>
<text x="325.6" y="447.4" font-size="6.6" text-anchor="middle" fill="#3a3a3a" stroke="#3a3a3a" stroke-width="0.18">0</text>
<text x="350.7" y="447.4" font-size="6.6" text-anchor="middle" fill="#3a3a3a" stroke="#3a3a3a" stroke-width="0.18">10<tspan font-size="4.4" dy="-2.6">4</tspan></text>
<text x="364.2" y="447.4" font-size="6.6" text-anchor="middle" fill="#3a3a3a" stroke="#3a3a3a" stroke-width="0.18">10<tspan font-size="4.4" dy="-2.6">5</tspan></text>
<text x="377" y="447.4" font-size="6.6" text-anchor="middle" fill="#3a3a3a" stroke="#3a3a3a" stroke-width="0.18">10<tspan font-size="4.4" dy="-2.6">6</tspan></text>
<text x="388.5" y="447.4" font-size="6.6" text-anchor="middle" fill="#3a3a3a" stroke="#3a3a3a" stroke-width="0.18">10<tspan font-size="4.4" dy="-2.6">7</tspan></text>
<line x1="313.6" y1="451.8" x2="388.5" y2="451.8" stroke="#111" stroke-width="1"/>
<path d="M386.5 449.7 L392 451.8 L386.5 453.9 Z" fill="#111" stroke="none" stroke-width="1"/>
<text x="352.4" y="462.4" font-size="8.6" text-anchor="middle" fill="#3a3a3a" textLength="11.8" lengthAdjust="spacingAndGlyphs" stroke="#3a3a3a" stroke-width="0.18">C4d</text>
<text x="291" y="396.15" font-size="9.2" text-anchor="middle" fill="#3a3a3a" transform="rotate(-90 291 396.15)" textLength="18.8" lengthAdjust="spacingAndGlyphs" stroke="#3a3a3a" stroke-width="0.18">Count</text>
<g>
<path d="M447 435.5 C447.67 435.15 449.67 434.52 451 433.4 C452.33 432.28 453.67 430.6 455 428.78 C456.33 426.96 457.67 424.58 459 422.48 C460.33 420.38 461.67 417.86 463 416.18 C464.33 414.5 465.83 413.38 467 412.4 C468.17 411.42 469.17 410.72 470 410.3 C470.83 409.88 471.33 409.74 472 409.88 C472.67 410.02 473.17 410.37 474 411.14 C474.83 411.91 476 413.17 477 414.5 C478 415.83 478.92 417.3 480 419.12 C481.08 420.94 482.33 423.46 483.5 425.42 C484.67 427.38 485.83 429.44 487 430.88 C488.17 432.31 489.33 433.26 490.5 434.03 C491.67 434.8 493.42 435.25 494 435.5 Z" fill="#f5d0a8" stroke="none" stroke-width="1" fill-opacity="0.4"/>
<path d="M454 435.5 C454.5 435.01 455.92 434.49 457 432.56 C458.08 430.63 459.33 426.61 460.5 423.95 C461.67 421.29 462.83 418.6 464 416.6 C465.17 414.61 466.5 413.21 467.5 411.98 C468.5 410.75 469.33 409.88 470 409.25 C470.67 408.62 471 408.58 471.5 408.2 C472 407.81 472.5 406.8 473 406.94 C473.5 407.08 473.83 407.96 474.5 409.04 C475.17 410.12 476.08 411.84 477 413.45 C477.92 415.06 478.92 416.77 480 418.7 C481.08 420.62 482.33 423.07 483.5 425 C484.67 426.93 485.83 428.78 487 430.25 C488.17 431.72 489.33 432.94 490.5 433.82 C491.67 434.69 493.42 435.22 494 435.5 Z" fill="#9ea8e2" stroke="none" stroke-width="1" fill-opacity="0.65"/>
<path d="M446 435.5 C446.5 434.62 448 432.7 449 430.25 C450 427.8 451.08 423.71 452 420.8 C452.92 417.89 453.67 414.64 454.5 412.82 C455.33 411 456.25 410.58 457 409.88 C457.75 409.18 458.42 408.62 459 408.62 C459.58 408.62 460 410.02 460.5 409.88 C461 409.74 461.42 407.92 462 407.78 C462.58 407.64 463.42 408.34 464 409.04 C464.58 409.74 464.92 411.07 465.5 411.98 C466.08 412.89 466.75 413.38 467.5 414.5 C468.25 415.62 469.17 417.12 470 418.7 C470.83 420.27 471.67 422.2 472.5 423.95 C473.33 425.7 474.17 427.69 475 429.2 C475.83 430.7 476.67 431.93 477.5 432.98 C478.33 434.03 479.58 435.08 480 435.5 Z" fill="#b3acde" stroke="none" stroke-width="1" fill-opacity="0.5"/>
<path d="M441 435.5 C441.47 434.62 443 433.75 443.8 430.25 C444.6 426.75 445.17 420.98 445.8 414.5 C446.43 408.02 447.02 398.4 447.6 391.4 C448.18 384.4 448.8 377.57 449.3 372.5 C449.8 367.43 450.22 363.05 450.6 360.95 C450.98 358.85 451.23 358.5 451.6 359.9 C451.97 361.3 452.35 364.45 452.8 369.35 C453.25 374.25 453.77 382.48 454.3 389.3 C454.83 396.12 455.42 404.18 456 410.3 C456.58 416.43 457.17 422.2 457.8 426.05 C458.43 429.9 459.1 431.82 459.8 433.4 C460.5 434.97 461.63 435.15 462 435.5 Z" fill="#f6b9a8" stroke="none" stroke-width="1" fill-opacity="0.8"/>
<path d="M447 435.5 C447.67 435.15 449.67 434.52 451 433.4 C452.33 432.28 453.67 430.6 455 428.78 C456.33 426.96 457.67 424.58 459 422.48 C460.33 420.38 461.67 417.86 463 416.18 C464.33 414.5 465.83 413.38 467 412.4 C468.17 411.42 469.17 410.72 470 410.3 C470.83 409.88 471.33 409.74 472 409.88 C472.67 410.02 473.17 410.37 474 411.14 C474.83 411.91 476 413.17 477 414.5 C478 415.83 478.92 417.3 480 419.12 C481.08 420.94 482.33 423.46 483.5 425.42 C484.67 427.38 485.83 429.44 487 430.88 C488.17 432.31 489.33 433.26 490.5 434.03 C491.67 434.8 493.42 435.25 494 435.5" fill="none" stroke="#eba035" stroke-width="1.5" stroke-linejoin="round"/>
<path d="M454 435.5 C454.5 435.01 455.92 434.49 457 432.56 C458.08 430.63 459.33 426.61 460.5 423.95 C461.67 421.29 462.83 418.6 464 416.6 C465.17 414.61 466.5 413.21 467.5 411.98 C468.5 410.75 469.33 409.88 470 409.25 C470.67 408.62 471 408.58 471.5 408.2 C472 407.81 472.5 406.8 473 406.94 C473.5 407.08 473.83 407.96 474.5 409.04 C475.17 410.12 476.08 411.84 477 413.45 C477.92 415.06 478.92 416.77 480 418.7 C481.08 420.62 482.33 423.07 483.5 425 C484.67 426.93 485.83 428.78 487 430.25 C488.17 431.72 489.33 432.94 490.5 433.82 C491.67 434.69 493.42 435.22 494 435.5" fill="none" stroke="#1d5a8c" stroke-width="1.5" stroke-linejoin="round"/>
<path d="M441 435.5 C441.47 434.62 443 433.75 443.8 430.25 C444.6 426.75 445.17 420.98 445.8 414.5 C446.43 408.02 447.02 398.4 447.6 391.4 C448.18 384.4 448.8 377.57 449.3 372.5 C449.8 367.43 450.22 363.05 450.6 360.95 C450.98 358.85 451.23 358.5 451.6 359.9 C451.97 361.3 452.35 364.45 452.8 369.35 C453.25 374.25 453.77 382.48 454.3 389.3 C454.83 396.12 455.42 404.18 456 410.3 C456.58 416.43 457.17 422.2 457.8 426.05 C458.43 429.9 459.1 431.82 459.8 433.4 C460.5 434.97 461.63 435.15 462 435.5" fill="none" stroke="#bc163d" stroke-width="1.5" stroke-linejoin="round"/>
<path d="M446 435.5 C446.5 434.62 448 432.7 449 430.25 C450 427.8 451.08 423.71 452 420.8 C452.92 417.89 453.67 414.64 454.5 412.82 C455.33 411 456.25 410.58 457 409.88 C457.75 409.18 458.42 408.62 459 408.62 C459.58 408.62 460 410.02 460.5 409.88 C461 409.74 461.42 407.92 462 407.78 C462.58 407.64 463.42 408.34 464 409.04 C464.58 409.74 464.92 411.07 465.5 411.98 C466.08 412.89 466.75 413.38 467.5 414.5 C468.25 415.62 469.17 417.12 470 418.7 C470.83 420.27 471.67 422.2 472.5 423.95 C473.33 425.7 474.17 427.69 475 429.2 C475.83 430.7 476.67 431.93 477.5 432.98 C478.33 434.03 479.58 435.08 480 435.5" fill="none" stroke="#571f68" stroke-width="1.5" stroke-linejoin="round"/>
</g>
<rect x="432.2" y="356.8" width="79.1" height="78.7" fill="none" stroke="#111" stroke-width="1.3"/>
<line x1="430.4" y1="430.25" x2="432.2" y2="430.25" stroke="#222" stroke-width="0.8"/>
<line x1="430.4" y1="425" x2="432.2" y2="425" stroke="#222" stroke-width="0.8"/>
<line x1="430.4" y1="419.75" x2="432.2" y2="419.75" stroke="#222" stroke-width="0.8"/>
<line x1="430.4" y1="409.25" x2="432.2" y2="409.25" stroke="#222" stroke-width="0.8"/>
<line x1="430.4" y1="404" x2="432.2" y2="404" stroke="#222" stroke-width="0.8"/>
<line x1="430.4" y1="398.75" x2="432.2" y2="398.75" stroke="#222" stroke-width="0.8"/>
<line x1="430.4" y1="388.25" x2="432.2" y2="388.25" stroke="#222" stroke-width="0.8"/>
<line x1="430.4" y1="383" x2="432.2" y2="383" stroke="#222" stroke-width="0.8"/>
<line x1="430.4" y1="377.75" x2="432.2" y2="377.75" stroke="#222" stroke-width="0.8"/>
<line x1="430.4" y1="367.25" x2="432.2" y2="367.25" stroke="#222" stroke-width="0.8"/>
<line x1="430.4" y1="362" x2="432.2" y2="362" stroke="#222" stroke-width="0.8"/>
<line x1="428.8" y1="435.5" x2="432.2" y2="435.5" stroke="#111" stroke-width="0.9"/>
<text x="426.6" y="437.8" font-size="6.6" text-anchor="end" fill="#3a3a3a" stroke="#3a3a3a" stroke-width="0.18">0</text>
<line x1="428.8" y1="414.5" x2="432.2" y2="414.5" stroke="#111" stroke-width="0.9"/>
<text x="426.6" y="416.8" font-size="6.6" text-anchor="end" fill="#3a3a3a" stroke="#3a3a3a" stroke-width="0.18">100</text>
<line x1="428.8" y1="393.5" x2="432.2" y2="393.5" stroke="#111" stroke-width="0.9"/>
<text x="426.6" y="395.8" font-size="6.6" text-anchor="end" fill="#3a3a3a" stroke="#3a3a3a" stroke-width="0.18">200</text>
<line x1="428.8" y1="372.5" x2="432.2" y2="372.5" stroke="#111" stroke-width="0.9"/>
<text x="426.6" y="374.8" font-size="6.6" text-anchor="end" fill="#3a3a3a" stroke="#3a3a3a" stroke-width="0.18">300</text>
<line x1="436.2" y1="435.5" x2="436.2" y2="437.1" stroke="#111" stroke-width="0.7"/>
<line x1="439.7" y1="435.5" x2="439.7" y2="437.1" stroke="#111" stroke-width="0.7"/>
<line x1="442.2" y1="435.5" x2="442.2" y2="437.1" stroke="#111" stroke-width="0.7"/>
<line x1="448.2" y1="435.5" x2="448.2" y2="437.1" stroke="#111" stroke-width="0.7"/>
<line x1="451.2" y1="435.5" x2="451.2" y2="437.1" stroke="#111" stroke-width="0.7"/>
<line x1="454.7" y1="435.5" x2="454.7" y2="437.1" stroke="#111" stroke-width="0.7"/>
<line x1="459.2" y1="435.5" x2="459.2" y2="437.1" stroke="#111" stroke-width="0.7"/>
<line x1="463.2" y1="435.5" x2="463.2" y2="437.1" stroke="#111" stroke-width="0.7"/>
<line x1="466.2" y1="435.5" x2="466.2" y2="437.1" stroke="#111" stroke-width="0.7"/>
<line x1="473.76" y1="435.5" x2="473.76" y2="437.1" stroke="#111" stroke-width="0.7"/>
<line x1="476.14" y1="435.5" x2="476.14" y2="437.1" stroke="#111" stroke-width="0.7"/>
<line x1="477.83" y1="435.5" x2="477.83" y2="437.1" stroke="#111" stroke-width="0.7"/>
<line x1="479.14" y1="435.5" x2="479.14" y2="437.1" stroke="#111" stroke-width="0.7"/>
<line x1="480.21" y1="435.5" x2="480.21" y2="437.1" stroke="#111" stroke-width="0.7"/>
<line x1="481.11" y1="435.5" x2="481.11" y2="437.1" stroke="#111" stroke-width="0.7"/>
<line x1="481.89" y1="435.5" x2="481.89" y2="437.1" stroke="#111" stroke-width="0.7"/>
<line x1="482.58" y1="435.5" x2="482.58" y2="437.1" stroke="#111" stroke-width="0.7"/>
<line x1="487.05" y1="435.5" x2="487.05" y2="437.1" stroke="#111" stroke-width="0.7"/>
<line x1="489.31" y1="435.5" x2="489.31" y2="437.1" stroke="#111" stroke-width="0.7"/>
<line x1="490.91" y1="435.5" x2="490.91" y2="437.1" stroke="#111" stroke-width="0.7"/>
<line x1="492.15" y1="435.5" x2="492.15" y2="437.1" stroke="#111" stroke-width="0.7"/>
<line x1="493.16" y1="435.5" x2="493.16" y2="437.1" stroke="#111" stroke-width="0.7"/>
<line x1="494.02" y1="435.5" x2="494.02" y2="437.1" stroke="#111" stroke-width="0.7"/>
<line x1="494.76" y1="435.5" x2="494.76" y2="437.1" stroke="#111" stroke-width="0.7"/>
<line x1="495.41" y1="435.5" x2="495.41" y2="437.1" stroke="#111" stroke-width="0.7"/>
<line x1="499.46" y1="435.5" x2="499.46" y2="437.1" stroke="#111" stroke-width="0.7"/>
<line x1="501.49" y1="435.5" x2="501.49" y2="437.1" stroke="#111" stroke-width="0.7"/>
<line x1="502.92" y1="435.5" x2="502.92" y2="437.1" stroke="#111" stroke-width="0.7"/>
<line x1="504.04" y1="435.5" x2="504.04" y2="437.1" stroke="#111" stroke-width="0.7"/>
<line x1="504.95" y1="435.5" x2="504.95" y2="437.1" stroke="#111" stroke-width="0.7"/>
<line x1="505.72" y1="435.5" x2="505.72" y2="437.1" stroke="#111" stroke-width="0.7"/>
<line x1="506.39" y1="435.5" x2="506.39" y2="437.1" stroke="#111" stroke-width="0.7"/>
<line x1="506.97" y1="435.5" x2="506.97" y2="437.1" stroke="#111" stroke-width="0.7"/>
<line x1="445.2" y1="435.5" x2="445.2" y2="438.1" stroke="#111" stroke-width="0.9"/>
<line x1="469.7" y1="435.5" x2="469.7" y2="438.1" stroke="#111" stroke-width="0.9"/>
<line x1="483.2" y1="435.5" x2="483.2" y2="438.1" stroke="#111" stroke-width="0.9"/>
<line x1="496" y1="435.5" x2="496" y2="438.1" stroke="#111" stroke-width="0.9"/>
<line x1="507.5" y1="435.5" x2="507.5" y2="438.1" stroke="#111" stroke-width="0.9"/>
<text x="445.2" y="447.4" font-size="6.6" text-anchor="middle" fill="#3a3a3a" stroke="#3a3a3a" stroke-width="0.18">0</text>
<text x="470.3" y="447.4" font-size="6.6" text-anchor="middle" fill="#3a3a3a" stroke="#3a3a3a" stroke-width="0.18">10<tspan font-size="4.4" dy="-2.6">4</tspan></text>
<text x="483.8" y="447.4" font-size="6.6" text-anchor="middle" fill="#3a3a3a" stroke="#3a3a3a" stroke-width="0.18">10<tspan font-size="4.4" dy="-2.6">5</tspan></text>
<text x="496.6" y="447.4" font-size="6.6" text-anchor="middle" fill="#3a3a3a" stroke="#3a3a3a" stroke-width="0.18">10<tspan font-size="4.4" dy="-2.6">6</tspan></text>
<text x="508.1" y="447.4" font-size="6.6" text-anchor="middle" fill="#3a3a3a" stroke="#3a3a3a" stroke-width="0.18">10<tspan font-size="4.4" dy="-2.6">7</tspan></text>
<line x1="433.2" y1="451.8" x2="508.3" y2="451.8" stroke="#111" stroke-width="1"/>
<path d="M506.3 449.7 L511.8 451.8 L506.3 453.9 Z" fill="#111" stroke="none" stroke-width="1"/>
<text x="472" y="462.4" font-size="8.6" text-anchor="middle" fill="#3a3a3a" textLength="11.8" lengthAdjust="spacingAndGlyphs" stroke="#3a3a3a" stroke-width="0.18">C3c</text>
<text x="410.6" y="396.15" font-size="9.2" text-anchor="middle" fill="#3a3a3a" transform="rotate(-90 410.6 396.15)" textLength="18.8" lengthAdjust="spacingAndGlyphs" stroke="#3a3a3a" stroke-width="0.18">Count</text>
<rect x="348.8" y="471.8" width="5.9" height="5.9" fill="#1d5a8c"/>
<rect x="348.8" y="481.8" width="5.9" height="5.9" fill="#bc163d"/>
<rect x="393.3" y="471.8" width="5.9" height="5.9" fill="#571f68"/>
<rect x="393.3" y="481.8" width="5.9" height="5.9" fill="#eba035"/>
<text x="358.6" y="477" font-size="6.8" text-anchor="start" fill="#3a3a3a" textLength="16.3" lengthAdjust="spacingAndGlyphs" stroke="#3a3a3a" stroke-width="0.18">CM12</text>
<text x="358.6" y="486.9" font-size="6.8" text-anchor="start" fill="#3a3a3a" textLength="25" lengthAdjust="spacingAndGlyphs" stroke="#3a3a3a" stroke-width="0.18">HI CM12</text>
<text x="402.5" y="477" font-size="6.8" text-anchor="start" fill="#3a3a3a" textLength="63.8" lengthAdjust="spacingAndGlyphs" stroke="#3a3a3a" stroke-width="0.18">CM12 + 30 µg/mL sut</text>
<text x="402.5" y="486.9" font-size="6.8" text-anchor="start" fill="#3a3a3a" textLength="52" lengthAdjust="spacingAndGlyphs" stroke="#3a3a3a" stroke-width="0.18">CM12 + 1 µM FDi</text>
<text x="0" y="0" font-size="10.6" font-weight="bold" fill="#111" transform="translate(276.8 513.6) scale(1.14 1)">L</text>
<text x="408" y="511.5" font-size="8.4" text-anchor="middle" fill="#333" stroke="#333" stroke-width="0.18"><tspan font-style="italic">CD46</tspan>KO</text>
<g>
<path d="M325 598 C325.42 597.32 326.67 595.94 327.5 593.89 C328.33 591.84 329.08 589.09 330 585.67 C330.92 582.25 332 576.99 333 573.34 C334 569.69 335 566.26 336 563.75 C337 561.24 338.17 559.32 339 558.27 C339.83 557.22 340.42 557.45 341 557.45 C341.58 557.45 341.83 556.99 342.5 558.27 C343.17 559.55 344.17 563.07 345 565.12 C345.83 567.17 346.67 569 347.5 570.6 C348.33 572.2 349.17 573.25 350 574.71 C350.83 576.17 351.67 577.77 352.5 579.37 C353.33 580.97 354.17 582.56 355 584.3 C355.83 586.04 356.67 587.95 357.5 589.78 C358.33 591.61 359.25 593.89 360 595.26 C360.75 596.63 361.67 597.54 362 598 Z" fill="#f5d0a8" stroke="none" stroke-width="1" fill-opacity="0.4"/>
<path d="M335 598 C335.42 597.32 336.67 596.17 337.5 593.89 C338.33 591.61 339.17 588.41 340 584.3 C340.83 580.19 341.67 574.02 342.5 569.23 C343.33 564.44 344.33 558.86 345 555.53 C345.67 552.2 346.12 550.6 346.5 549.23 C346.88 547.86 346.97 547.17 347.3 547.31 C347.63 547.45 347.97 548.68 348.5 550.05 C349.03 551.42 349.83 553.7 350.5 555.53 C351.17 557.36 351.75 558.73 352.5 561.01 C353.25 563.29 354.17 566.49 355 569.23 C355.83 571.97 356.75 574.71 357.5 577.45 C358.25 580.19 358.83 582.93 359.5 585.67 C360.17 588.41 360.83 591.84 361.5 593.89 C362.17 595.94 363.17 597.32 363.5 598 Z" fill="#9ea8e2" stroke="none" stroke-width="1" fill-opacity="0.65"/>
<path d="M321.5 598 C321.92 597.45 323.25 596.77 324 594.71 C324.75 592.66 325.33 590.83 326 585.67 C326.67 580.51 327.42 570.6 328 563.75 C328.58 556.9 329 549.82 329.5 544.57 C330 539.32 330.5 535.03 331 532.24 C331.5 529.45 332 528.77 332.5 527.86 C333 526.94 333.5 526.49 334 526.76 C334.5 527.03 335 527.44 335.5 529.5 C336 531.56 336.5 535.21 337 539.09 C337.5 542.97 337.92 548.36 338.5 552.79 C339.08 557.22 339.83 562.01 340.5 565.67 C341.17 569.32 341.83 571.97 342.5 574.71 C343.17 577.45 343.83 579.82 344.5 582.11 C345.17 584.39 345.83 586.49 346.5 588.41 C347.17 590.33 347.83 592.25 348.5 593.62 C349.17 594.99 349.83 595.9 350.5 596.63 C351.17 597.36 352.17 597.77 352.5 598 Z" fill="#b3acde" stroke="none" stroke-width="1" fill-opacity="0.5"/>
<path d="M321 598 C321.42 597.54 322.75 597.09 323.5 595.26 C324.25 593.43 324.83 592.06 325.5 587.04 C326.17 582.02 326.92 571.97 327.5 565.12 C328.08 558.27 328.5 551.19 329 545.94 C329.5 540.69 330 536.44 330.5 533.61 C331 530.78 331.5 529.96 332 528.95 C332.5 527.95 333 527.58 333.5 527.58 C334 527.58 334.5 527.49 335 528.95 C335.5 530.41 336 532.83 336.5 536.35 C337 539.87 337.42 545.48 338 550.05 C338.58 554.62 339.33 559.87 340 563.75 C340.67 567.63 341.33 570.6 342 573.34 C342.67 576.08 343.33 577.91 344 580.19 C344.67 582.47 345.33 584.99 346 587.04 C346.67 589.09 347.33 591.01 348 592.52 C348.67 594.03 349.33 595.17 350 596.08 C350.67 597 351.67 597.68 352 598 Z" fill="#f6b9a8" stroke="none" stroke-width="1" fill-opacity="0.8"/>
<path d="M325 598 C325.42 597.32 326.67 595.94 327.5 593.89 C328.33 591.84 329.08 589.09 330 585.67 C330.92 582.25 332 576.99 333 573.34 C334 569.69 335 566.26 336 563.75 C337 561.24 338.17 559.32 339 558.27 C339.83 557.22 340.42 557.45 341 557.45 C341.58 557.45 341.83 556.99 342.5 558.27 C343.17 559.55 344.17 563.07 345 565.12 C345.83 567.17 346.67 569 347.5 570.6 C348.33 572.2 349.17 573.25 350 574.71 C350.83 576.17 351.67 577.77 352.5 579.37 C353.33 580.97 354.17 582.56 355 584.3 C355.83 586.04 356.67 587.95 357.5 589.78 C358.33 591.61 359.25 593.89 360 595.26 C360.75 596.63 361.67 597.54 362 598" fill="none" stroke="#eba035" stroke-width="1.5" stroke-linejoin="round"/>
<path d="M335 598 C335.42 597.32 336.67 596.17 337.5 593.89 C338.33 591.61 339.17 588.41 340 584.3 C340.83 580.19 341.67 574.02 342.5 569.23 C343.33 564.44 344.33 558.86 345 555.53 C345.67 552.2 346.12 550.6 346.5 549.23 C346.88 547.86 346.97 547.17 347.3 547.31 C347.63 547.45 347.97 548.68 348.5 550.05 C349.03 551.42 349.83 553.7 350.5 555.53 C351.17 557.36 351.75 558.73 352.5 561.01 C353.25 563.29 354.17 566.49 355 569.23 C355.83 571.97 356.75 574.71 357.5 577.45 C358.25 580.19 358.83 582.93 359.5 585.67 C360.17 588.41 360.83 591.84 361.5 593.89 C362.17 595.94 363.17 597.32 363.5 598" fill="none" stroke="#1d5a8c" stroke-width="1.5" stroke-linejoin="round"/>
<path d="M321 598 C321.42 597.54 322.75 597.09 323.5 595.26 C324.25 593.43 324.83 592.06 325.5 587.04 C326.17 582.02 326.92 571.97 327.5 565.12 C328.08 558.27 328.5 551.19 329 545.94 C329.5 540.69 330 536.44 330.5 533.61 C331 530.78 331.5 529.96 332 528.95 C332.5 527.95 333 527.58 333.5 527.58 C334 527.58 334.5 527.49 335 528.95 C335.5 530.41 336 532.83 336.5 536.35 C337 539.87 337.42 545.48 338 550.05 C338.58 554.62 339.33 559.87 340 563.75 C340.67 567.63 341.33 570.6 342 573.34 C342.67 576.08 343.33 577.91 344 580.19 C344.67 582.47 345.33 584.99 346 587.04 C346.67 589.09 347.33 591.01 348 592.52 C348.67 594.03 349.33 595.17 350 596.08 C350.67 597 351.67 597.68 352 598" fill="none" stroke="#bc163d" stroke-width="1.5" stroke-linejoin="round"/>
<path d="M321.5 598 C321.92 597.45 323.25 596.77 324 594.71 C324.75 592.66 325.33 590.83 326 585.67 C326.67 580.51 327.42 570.6 328 563.75 C328.58 556.9 329 549.82 329.5 544.57 C330 539.32 330.5 535.03 331 532.24 C331.5 529.45 332 528.77 332.5 527.86 C333 526.94 333.5 526.49 334 526.76 C334.5 527.03 335 527.44 335.5 529.5 C336 531.56 336.5 535.21 337 539.09 C337.5 542.97 337.92 548.36 338.5 552.79 C339.08 557.22 339.83 562.01 340.5 565.67 C341.17 569.32 341.83 571.97 342.5 574.71 C343.17 577.45 343.83 579.82 344.5 582.11 C345.17 584.39 345.83 586.49 346.5 588.41 C347.17 590.33 347.83 592.25 348.5 593.62 C349.17 594.99 349.83 595.9 350.5 596.63 C351.17 597.36 352.17 597.77 352.5 598" fill="none" stroke="#571f68" stroke-width="1.5" stroke-linejoin="round"/>
</g>
<rect x="312.5" y="519.5" width="79" height="78.5" fill="none" stroke="#111" stroke-width="1.3"/>
<line x1="310.7" y1="591.15" x2="312.5" y2="591.15" stroke="#222" stroke-width="0.8"/>
<line x1="310.7" y1="577.45" x2="312.5" y2="577.45" stroke="#222" stroke-width="0.8"/>
<line x1="310.7" y1="563.75" x2="312.5" y2="563.75" stroke="#222" stroke-width="0.8"/>
<line x1="310.7" y1="550.05" x2="312.5" y2="550.05" stroke="#222" stroke-width="0.8"/>
<line x1="310.7" y1="536.35" x2="312.5" y2="536.35" stroke="#222" stroke-width="0.8"/>
<line x1="310.7" y1="522.65" x2="312.5" y2="522.65" stroke="#222" stroke-width="0.8"/>
<line x1="309.1" y1="598" x2="312.5" y2="598" stroke="#111" stroke-width="0.9"/>
<text x="306.9" y="600.3" font-size="6.6" text-anchor="end" fill="#3a3a3a" stroke="#3a3a3a" stroke-width="0.18">0</text>
<line x1="309.1" y1="584.3" x2="312.5" y2="584.3" stroke="#111" stroke-width="0.9"/>
<text x="306.9" y="586.6" font-size="6.6" text-anchor="end" fill="#3a3a3a" stroke="#3a3a3a" stroke-width="0.18">50</text>
<line x1="309.1" y1="570.6" x2="312.5" y2="570.6" stroke="#111" stroke-width="0.9"/>
<text x="306.9" y="572.9" font-size="6.6" text-anchor="end" fill="#3a3a3a" stroke="#3a3a3a" stroke-width="0.18">100</text>
<line x1="309.1" y1="556.9" x2="312.5" y2="556.9" stroke="#111" stroke-width="0.9"/>
<text x="306.9" y="559.2" font-size="6.6" text-anchor="end" fill="#3a3a3a" stroke="#3a3a3a" stroke-width="0.18">150</text>
<line x1="309.1" y1="543.2" x2="312.5" y2="543.2" stroke="#111" stroke-width="0.9"/>
<text x="306.9" y="545.5" font-size="6.6" text-anchor="end" fill="#3a3a3a" stroke="#3a3a3a" stroke-width="0.18">200</text>
<line x1="309.1" y1="529.5" x2="312.5" y2="529.5" stroke="#111" stroke-width="0.9"/>
<text x="306.9" y="531.8" font-size="6.6" text-anchor="end" fill="#3a3a3a" stroke="#3a3a3a" stroke-width="0.18">250</text>
<line x1="316.5" y1="598" x2="316.5" y2="599.6" stroke="#111" stroke-width="0.7"/>
<line x1="320" y1="598" x2="320" y2="599.6" stroke="#111" stroke-width="0.7"/>
<line x1="322.5" y1="598" x2="322.5" y2="599.6" stroke="#111" stroke-width="0.7"/>
<line x1="328.5" y1="598" x2="328.5" y2="599.6" stroke="#111" stroke-width="0.7"/>
<line x1="331.5" y1="598" x2="331.5" y2="599.6" stroke="#111" stroke-width="0.7"/>
<line x1="335" y1="598" x2="335" y2="599.6" stroke="#111" stroke-width="0.7"/>
<line x1="339.5" y1="598" x2="339.5" y2="599.6" stroke="#111" stroke-width="0.7"/>
<line x1="343.5" y1="598" x2="343.5" y2="599.6" stroke="#111" stroke-width="0.7"/>
<line x1="346.5" y1="598" x2="346.5" y2="599.6" stroke="#111" stroke-width="0.7"/>
<line x1="354.06" y1="598" x2="354.06" y2="599.6" stroke="#111" stroke-width="0.7"/>
<line x1="356.44" y1="598" x2="356.44" y2="599.6" stroke="#111" stroke-width="0.7"/>
<line x1="358.13" y1="598" x2="358.13" y2="599.6" stroke="#111" stroke-width="0.7"/>
<line x1="359.44" y1="598" x2="359.44" y2="599.6" stroke="#111" stroke-width="0.7"/>
<line x1="360.51" y1="598" x2="360.51" y2="599.6" stroke="#111" stroke-width="0.7"/>
<line x1="361.41" y1="598" x2="361.41" y2="599.6" stroke="#111" stroke-width="0.7"/>
<line x1="362.19" y1="598" x2="362.19" y2="599.6" stroke="#111" stroke-width="0.7"/>
<line x1="362.88" y1="598" x2="362.88" y2="599.6" stroke="#111" stroke-width="0.7"/>
<line x1="367.35" y1="598" x2="367.35" y2="599.6" stroke="#111" stroke-width="0.7"/>
<line x1="369.61" y1="598" x2="369.61" y2="599.6" stroke="#111" stroke-width="0.7"/>
<line x1="371.21" y1="598" x2="371.21" y2="599.6" stroke="#111" stroke-width="0.7"/>
<line x1="372.45" y1="598" x2="372.45" y2="599.6" stroke="#111" stroke-width="0.7"/>
<line x1="373.46" y1="598" x2="373.46" y2="599.6" stroke="#111" stroke-width="0.7"/>
<line x1="374.32" y1="598" x2="374.32" y2="599.6" stroke="#111" stroke-width="0.7"/>
<line x1="375.06" y1="598" x2="375.06" y2="599.6" stroke="#111" stroke-width="0.7"/>
<line x1="375.71" y1="598" x2="375.71" y2="599.6" stroke="#111" stroke-width="0.7"/>
<line x1="379.76" y1="598" x2="379.76" y2="599.6" stroke="#111" stroke-width="0.7"/>
<line x1="381.79" y1="598" x2="381.79" y2="599.6" stroke="#111" stroke-width="0.7"/>
<line x1="383.22" y1="598" x2="383.22" y2="599.6" stroke="#111" stroke-width="0.7"/>
<line x1="384.34" y1="598" x2="384.34" y2="599.6" stroke="#111" stroke-width="0.7"/>
<line x1="385.25" y1="598" x2="385.25" y2="599.6" stroke="#111" stroke-width="0.7"/>
<line x1="386.02" y1="598" x2="386.02" y2="599.6" stroke="#111" stroke-width="0.7"/>
<line x1="386.69" y1="598" x2="386.69" y2="599.6" stroke="#111" stroke-width="0.7"/>
<line x1="387.27" y1="598" x2="387.27" y2="599.6" stroke="#111" stroke-width="0.7"/>
<line x1="325.5" y1="598" x2="325.5" y2="600.6" stroke="#111" stroke-width="0.9"/>
<line x1="350" y1="598" x2="350" y2="600.6" stroke="#111" stroke-width="0.9"/>
<line x1="363.5" y1="598" x2="363.5" y2="600.6" stroke="#111" stroke-width="0.9"/>
<line x1="376.3" y1="598" x2="376.3" y2="600.6" stroke="#111" stroke-width="0.9"/>
<line x1="387.8" y1="598" x2="387.8" y2="600.6" stroke="#111" stroke-width="0.9"/>
<text x="325.5" y="609.9" font-size="6.6" text-anchor="middle" fill="#3a3a3a" stroke="#3a3a3a" stroke-width="0.18">0</text>
<text x="350.6" y="609.9" font-size="6.6" text-anchor="middle" fill="#3a3a3a" stroke="#3a3a3a" stroke-width="0.18">10<tspan font-size="4.4" dy="-2.6">4</tspan></text>
<text x="364.1" y="609.9" font-size="6.6" text-anchor="middle" fill="#3a3a3a" stroke="#3a3a3a" stroke-width="0.18">10<tspan font-size="4.4" dy="-2.6">5</tspan></text>
<text x="376.9" y="609.9" font-size="6.6" text-anchor="middle" fill="#3a3a3a" stroke="#3a3a3a" stroke-width="0.18">10<tspan font-size="4.4" dy="-2.6">6</tspan></text>
<text x="388.4" y="609.9" font-size="6.6" text-anchor="middle" fill="#3a3a3a" stroke="#3a3a3a" stroke-width="0.18">10<tspan font-size="4.4" dy="-2.6">7</tspan></text>
<line x1="313.5" y1="614.3" x2="388.5" y2="614.3" stroke="#111" stroke-width="1"/>
<path d="M386.5 612.2 L392 614.3 L386.5 616.4 Z" fill="#111" stroke="none" stroke-width="1"/>
<text x="352.3" y="624.9" font-size="8.6" text-anchor="middle" fill="#3a3a3a" textLength="11.8" lengthAdjust="spacingAndGlyphs" stroke="#3a3a3a" stroke-width="0.18">C4d</text>
<text x="290.9" y="558.75" font-size="9.2" text-anchor="middle" fill="#3a3a3a" transform="rotate(-90 290.9 558.75)" textLength="18.8" lengthAdjust="spacingAndGlyphs" stroke="#3a3a3a" stroke-width="0.18">Count</text>
<g>
<path d="M464 598.2 C464.5 597.85 466 597.07 467 596.08 C468 595.08 469 594.02 470 592.25 C471 590.48 472 588.18 473 585.45 C474 582.72 475 579.08 476 575.89 C477 572.7 478.08 569.16 479 566.33 C479.92 563.49 480.75 560.66 481.5 558.89 C482.25 557.12 482.83 555.88 483.5 555.7 C484.17 555.52 484.83 556.05 485.5 557.83 C486.17 559.6 486.83 563.14 487.5 566.33 C488.17 569.51 488.83 573.59 489.5 576.95 C490.17 580.31 490.83 583.86 491.5 586.51 C492.17 589.17 492.75 591.22 493.5 592.89 C494.25 594.55 495.17 595.61 496 596.5 C496.83 597.39 498.08 597.92 498.5 598.2 Z" fill="#f5d0a8" stroke="none" stroke-width="1" fill-opacity="0.4"/>
<path d="M466 598.2 C466.5 597.85 468 597.14 469 596.08 C470 595.01 471 593.77 472 591.83 C473 589.88 474 587.4 475 584.39 C476 581.38 477.08 577.3 478 573.76 C478.92 570.22 479.75 566.15 480.5 563.14 C481.25 560.13 481.92 557.51 482.5 555.7 C483.08 553.89 483.5 552.48 484 552.3 C484.5 552.12 484.92 552.65 485.5 554.64 C486.08 556.62 486.83 560.66 487.5 564.2 C488.17 567.74 488.83 572.35 489.5 575.89 C490.17 579.43 490.83 582.72 491.5 585.45 C492.17 588.18 492.83 590.48 493.5 592.25 C494.17 594.02 494.75 595.08 495.5 596.08 C496.25 597.07 497.58 597.85 498 598.2 Z" fill="#9ea8e2" stroke="none" stroke-width="1" fill-opacity="0.65"/>
<path d="M461 598.2 C461.5 597.92 463 597.49 464 596.5 C465 595.51 466 594.62 467 592.25 C468 589.88 469.08 585.7 470 582.26 C470.92 578.83 471.67 575.53 472.5 571.64 C473.33 567.74 474.25 562.43 475 558.89 C475.75 555.35 476.33 552.34 477 550.39 C477.67 548.44 478.42 547.45 479 547.2 C479.58 546.95 480 547.66 480.5 548.9 C481 550.14 481.47 552.26 482 554.64 C482.53 557.01 483.2 559.95 483.7 563.14 C484.2 566.33 484.57 570.04 485 573.76 C485.43 577.48 485.88 582.09 486.3 585.45 C486.72 588.81 487.05 591.83 487.5 593.95 C487.95 596.08 488.75 597.49 489 598.2 Z" fill="#b3acde" stroke="none" stroke-width="1" fill-opacity="0.5"/>
<path d="M441 598.2 C441.42 597.31 442.72 596.61 443.5 592.89 C444.28 589.17 445 582.79 445.7 575.89 C446.4 568.98 447.03 558.71 447.7 551.45 C448.37 544.19 449.12 536.65 449.7 532.33 C450.28 528 450.73 525.88 451.2 525.53 C451.67 525.17 452.03 526.94 452.5 530.2 C452.97 533.46 453.47 539.41 454 545.08 C454.53 550.74 455.12 558 455.7 564.2 C456.28 570.4 456.9 577.38 457.5 582.26 C458.1 587.15 458.72 590.98 459.3 593.53 C459.88 596.08 460.47 596.78 461 597.56 C461.53 598.34 462.25 598.09 462.5 598.2 Z" fill="#f6b9a8" stroke="none" stroke-width="1" fill-opacity="0.8"/>
<path d="M464 598.2 C464.5 597.85 466 597.07 467 596.08 C468 595.08 469 594.02 470 592.25 C471 590.48 472 588.18 473 585.45 C474 582.72 475 579.08 476 575.89 C477 572.7 478.08 569.16 479 566.33 C479.92 563.49 480.75 560.66 481.5 558.89 C482.25 557.12 482.83 555.88 483.5 555.7 C484.17 555.52 484.83 556.05 485.5 557.83 C486.17 559.6 486.83 563.14 487.5 566.33 C488.17 569.51 488.83 573.59 489.5 576.95 C490.17 580.31 490.83 583.86 491.5 586.51 C492.17 589.17 492.75 591.22 493.5 592.89 C494.25 594.55 495.17 595.61 496 596.5 C496.83 597.39 498.08 597.92 498.5 598.2" fill="none" stroke="#eba035" stroke-width="1.5" stroke-linejoin="round"/>
<path d="M466 598.2 C466.5 597.85 468 597.14 469 596.08 C470 595.01 471 593.77 472 591.83 C473 589.88 474 587.4 475 584.39 C476 581.38 477.08 577.3 478 573.76 C478.92 570.22 479.75 566.15 480.5 563.14 C481.25 560.13 481.92 557.51 482.5 555.7 C483.08 553.89 483.5 552.48 484 552.3 C484.5 552.12 484.92 552.65 485.5 554.64 C486.08 556.62 486.83 560.66 487.5 564.2 C488.17 567.74 488.83 572.35 489.5 575.89 C490.17 579.43 490.83 582.72 491.5 585.45 C492.17 588.18 492.83 590.48 493.5 592.25 C494.17 594.02 494.75 595.08 495.5 596.08 C496.25 597.07 497.58 597.85 498 598.2" fill="none" stroke="#1d5a8c" stroke-width="1.5" stroke-linejoin="round"/>
<path d="M441 598.2 C441.42 597.31 442.72 596.61 443.5 592.89 C444.28 589.17 445 582.79 445.7 575.89 C446.4 568.98 447.03 558.71 447.7 551.45 C448.37 544.19 449.12 536.65 449.7 532.33 C450.28 528 450.73 525.88 451.2 525.53 C451.67 525.17 452.03 526.94 452.5 530.2 C452.97 533.46 453.47 539.41 454 545.08 C454.53 550.74 455.12 558 455.7 564.2 C456.28 570.4 456.9 577.38 457.5 582.26 C458.1 587.15 458.72 590.98 459.3 593.53 C459.88 596.08 460.47 596.78 461 597.56 C461.53 598.34 462.25 598.09 462.5 598.2" fill="none" stroke="#bc163d" stroke-width="1.5" stroke-linejoin="round"/>
<path d="M461 598.2 C461.5 597.92 463 597.49 464 596.5 C465 595.51 466 594.62 467 592.25 C468 589.88 469.08 585.7 470 582.26 C470.92 578.83 471.67 575.53 472.5 571.64 C473.33 567.74 474.25 562.43 475 558.89 C475.75 555.35 476.33 552.34 477 550.39 C477.67 548.44 478.42 547.45 479 547.2 C479.58 546.95 480 547.66 480.5 548.9 C481 550.14 481.47 552.26 482 554.64 C482.53 557.01 483.2 559.95 483.7 563.14 C484.2 566.33 484.57 570.04 485 573.76 C485.43 577.48 485.88 582.09 486.3 585.45 C486.72 588.81 487.05 591.83 487.5 593.95 C487.95 596.08 488.75 597.49 489 598.2" fill="none" stroke="#571f68" stroke-width="1.5" stroke-linejoin="round"/>
</g>
<rect x="432.2" y="519.5" width="79.1" height="78.7" fill="none" stroke="#111" stroke-width="1.3"/>
<line x1="430.4" y1="592.89" x2="432.2" y2="592.89" stroke="#222" stroke-width="0.8"/>
<line x1="430.4" y1="587.58" x2="432.2" y2="587.58" stroke="#222" stroke-width="0.8"/>
<line x1="430.4" y1="582.26" x2="432.2" y2="582.26" stroke="#222" stroke-width="0.8"/>
<line x1="430.4" y1="571.64" x2="432.2" y2="571.64" stroke="#222" stroke-width="0.8"/>
<line x1="430.4" y1="566.33" x2="432.2" y2="566.33" stroke="#222" stroke-width="0.8"/>
<line x1="430.4" y1="561.01" x2="432.2" y2="561.01" stroke="#222" stroke-width="0.8"/>
<line x1="430.4" y1="550.39" x2="432.2" y2="550.39" stroke="#222" stroke-width="0.8"/>
<line x1="430.4" y1="545.08" x2="432.2" y2="545.08" stroke="#222" stroke-width="0.8"/>
<line x1="430.4" y1="539.76" x2="432.2" y2="539.76" stroke="#222" stroke-width="0.8"/>
<line x1="430.4" y1="529.14" x2="432.2" y2="529.14" stroke="#222" stroke-width="0.8"/>
<line x1="430.4" y1="523.83" x2="432.2" y2="523.83" stroke="#222" stroke-width="0.8"/>
<line x1="428.8" y1="598.2" x2="432.2" y2="598.2" stroke="#111" stroke-width="0.9"/>
<text x="426.6" y="600.5" font-size="6.6" text-anchor="end" fill="#3a3a3a" stroke="#3a3a3a" stroke-width="0.18">0</text>
<line x1="428.8" y1="576.95" x2="432.2" y2="576.95" stroke="#111" stroke-width="0.9"/>
<text x="426.6" y="579.25" font-size="6.6" text-anchor="end" fill="#3a3a3a" stroke="#3a3a3a" stroke-width="0.18">100</text>
<line x1="428.8" y1="555.7" x2="432.2" y2="555.7" stroke="#111" stroke-width="0.9"/>
<text x="426.6" y="558" font-size="6.6" text-anchor="end" fill="#3a3a3a" stroke="#3a3a3a" stroke-width="0.18">200</text>
<line x1="428.8" y1="534.45" x2="432.2" y2="534.45" stroke="#111" stroke-width="0.9"/>
<text x="426.6" y="536.75" font-size="6.6" text-anchor="end" fill="#3a3a3a" stroke="#3a3a3a" stroke-width="0.18">300</text>
<line x1="436.2" y1="598.2" x2="436.2" y2="599.8" stroke="#111" stroke-width="0.7"/>
<line x1="439.7" y1="598.2" x2="439.7" y2="599.8" stroke="#111" stroke-width="0.7"/>
<line x1="442.2" y1="598.2" x2="442.2" y2="599.8" stroke="#111" stroke-width="0.7"/>
<line x1="448.2" y1="598.2" x2="448.2" y2="599.8" stroke="#111" stroke-width="0.7"/>
<line x1="451.2" y1="598.2" x2="451.2" y2="599.8" stroke="#111" stroke-width="0.7"/>
<line x1="454.7" y1="598.2" x2="454.7" y2="599.8" stroke="#111" stroke-width="0.7"/>
<line x1="459.2" y1="598.2" x2="459.2" y2="599.8" stroke="#111" stroke-width="0.7"/>
<line x1="463.2" y1="598.2" x2="463.2" y2="599.8" stroke="#111" stroke-width="0.7"/>
<line x1="466.2" y1="598.2" x2="466.2" y2="599.8" stroke="#111" stroke-width="0.7"/>
<line x1="473.76" y1="598.2" x2="473.76" y2="599.8" stroke="#111" stroke-width="0.7"/>
<line x1="476.14" y1="598.2" x2="476.14" y2="599.8" stroke="#111" stroke-width="0.7"/>
<line x1="477.83" y1="598.2" x2="477.83" y2="599.8" stroke="#111" stroke-width="0.7"/>
<line x1="479.14" y1="598.2" x2="479.14" y2="599.8" stroke="#111" stroke-width="0.7"/>
<line x1="480.21" y1="598.2" x2="480.21" y2="599.8" stroke="#111" stroke-width="0.7"/>
<line x1="481.11" y1="598.2" x2="481.11" y2="599.8" stroke="#111" stroke-width="0.7"/>
<line x1="481.89" y1="598.2" x2="481.89" y2="599.8" stroke="#111" stroke-width="0.7"/>
<line x1="482.58" y1="598.2" x2="482.58" y2="599.8" stroke="#111" stroke-width="0.7"/>
<line x1="487.05" y1="598.2" x2="487.05" y2="599.8" stroke="#111" stroke-width="0.7"/>
<line x1="489.31" y1="598.2" x2="489.31" y2="599.8" stroke="#111" stroke-width="0.7"/>
<line x1="490.91" y1="598.2" x2="490.91" y2="599.8" stroke="#111" stroke-width="0.7"/>
<line x1="492.15" y1="598.2" x2="492.15" y2="599.8" stroke="#111" stroke-width="0.7"/>
<line x1="493.16" y1="598.2" x2="493.16" y2="599.8" stroke="#111" stroke-width="0.7"/>
<line x1="494.02" y1="598.2" x2="494.02" y2="599.8" stroke="#111" stroke-width="0.7"/>
<line x1="494.76" y1="598.2" x2="494.76" y2="599.8" stroke="#111" stroke-width="0.7"/>
<line x1="495.41" y1="598.2" x2="495.41" y2="599.8" stroke="#111" stroke-width="0.7"/>
<line x1="499.46" y1="598.2" x2="499.46" y2="599.8" stroke="#111" stroke-width="0.7"/>
<line x1="501.49" y1="598.2" x2="501.49" y2="599.8" stroke="#111" stroke-width="0.7"/>
<line x1="502.92" y1="598.2" x2="502.92" y2="599.8" stroke="#111" stroke-width="0.7"/>
<line x1="504.04" y1="598.2" x2="504.04" y2="599.8" stroke="#111" stroke-width="0.7"/>
<line x1="504.95" y1="598.2" x2="504.95" y2="599.8" stroke="#111" stroke-width="0.7"/>
<line x1="505.72" y1="598.2" x2="505.72" y2="599.8" stroke="#111" stroke-width="0.7"/>
<line x1="506.39" y1="598.2" x2="506.39" y2="599.8" stroke="#111" stroke-width="0.7"/>
<line x1="506.97" y1="598.2" x2="506.97" y2="599.8" stroke="#111" stroke-width="0.7"/>
<line x1="445.2" y1="598.2" x2="445.2" y2="600.8" stroke="#111" stroke-width="0.9"/>
<line x1="469.7" y1="598.2" x2="469.7" y2="600.8" stroke="#111" stroke-width="0.9"/>
<line x1="483.2" y1="598.2" x2="483.2" y2="600.8" stroke="#111" stroke-width="0.9"/>
<line x1="496" y1="598.2" x2="496" y2="600.8" stroke="#111" stroke-width="0.9"/>
<line x1="507.5" y1="598.2" x2="507.5" y2="600.8" stroke="#111" stroke-width="0.9"/>
<text x="445.2" y="610.1" font-size="6.6" text-anchor="middle" fill="#3a3a3a" stroke="#3a3a3a" stroke-width="0.18">0</text>
<text x="470.3" y="610.1" font-size="6.6" text-anchor="middle" fill="#3a3a3a" stroke="#3a3a3a" stroke-width="0.18">10<tspan font-size="4.4" dy="-2.6">4</tspan></text>
<text x="483.8" y="610.1" font-size="6.6" text-anchor="middle" fill="#3a3a3a" stroke="#3a3a3a" stroke-width="0.18">10<tspan font-size="4.4" dy="-2.6">5</tspan></text>
<text x="496.6" y="610.1" font-size="6.6" text-anchor="middle" fill="#3a3a3a" stroke="#3a3a3a" stroke-width="0.18">10<tspan font-size="4.4" dy="-2.6">6</tspan></text>
<text x="508.1" y="610.1" font-size="6.6" text-anchor="middle" fill="#3a3a3a" stroke="#3a3a3a" stroke-width="0.18">10<tspan font-size="4.4" dy="-2.6">7</tspan></text>
<line x1="433.2" y1="614.5" x2="508.3" y2="614.5" stroke="#111" stroke-width="1"/>
<path d="M506.3 612.4 L511.8 614.5 L506.3 616.6 Z" fill="#111" stroke="none" stroke-width="1"/>
<text x="472" y="625.1" font-size="8.6" text-anchor="middle" fill="#3a3a3a" textLength="11.8" lengthAdjust="spacingAndGlyphs" stroke="#3a3a3a" stroke-width="0.18">C3c</text>
<text x="410.6" y="558.85" font-size="9.2" text-anchor="middle" fill="#3a3a3a" transform="rotate(-90 410.6 558.85)" textLength="18.8" lengthAdjust="spacingAndGlyphs" stroke="#3a3a3a" stroke-width="0.18">Count</text>
<rect x="348.8" y="634.1" width="5.9" height="5.9" fill="#1d5a8c"/>
<rect x="348.8" y="644.1" width="5.9" height="5.9" fill="#bc163d"/>
<rect x="393.3" y="634.1" width="5.9" height="5.9" fill="#571f68"/>
<rect x="393.3" y="644.1" width="5.9" height="5.9" fill="#eba035"/>
<text x="358.6" y="639.3" font-size="6.8" text-anchor="start" fill="#3a3a3a" textLength="16.3" lengthAdjust="spacingAndGlyphs" stroke="#3a3a3a" stroke-width="0.18">CM06</text>
<text x="358.6" y="649.2" font-size="6.8" text-anchor="start" fill="#3a3a3a" textLength="25" lengthAdjust="spacingAndGlyphs" stroke="#3a3a3a" stroke-width="0.18">HI CM06</text>
<text x="402.5" y="639.3" font-size="6.8" text-anchor="start" fill="#3a3a3a" textLength="63.8" lengthAdjust="spacingAndGlyphs" stroke="#3a3a3a" stroke-width="0.18">CM06 + 30 µg/mL sut</text>
<text x="402.5" y="649.2" font-size="6.8" text-anchor="start" fill="#3a3a3a" textLength="52" lengthAdjust="spacingAndGlyphs" stroke="#3a3a3a" stroke-width="0.18">CM06 + 1 µM FDi</text>
<rect x="0.5" y="0.5" width="519" height="657" fill="none" stroke="#5c5c5c" stroke-width="1"/>
<line x1="519.5" y1="0" x2="519.5" y2="658" stroke="#4a4a4a" stroke-width="1"/>
<line x1="0" y1="657.5" x2="520" y2="657.5" stroke="#4f4f4f" stroke-width="1"/>
</svg>
</body></html>
